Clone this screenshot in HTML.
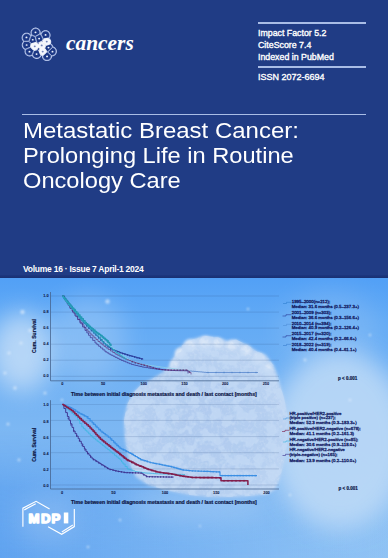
<!DOCTYPE html>
<html><head><meta charset="utf-8">
<style>
html,body{margin:0;padding:0;}
body{width:388px;height:558px;overflow:hidden;position:relative;background:#203c85;font-family:"Liberation Sans",sans-serif;}
.top{position:absolute;left:0;top:0;width:388px;height:278px;background:#203c85;}
.band{position:absolute;left:0;top:275px;width:388px;height:3px;background:linear-gradient(#1d3780,#183072);}

.w{color:#fff;position:absolute;white-space:nowrap;}
.hl{position:absolute;height:1.5px;background:#a9bde6;}
.title{position:absolute;left:23px;top:118.5px;color:#fff;font-size:22.8px;line-height:24.5px;transform:scaleX(1.037);transform-origin:0 0;white-space:nowrap;}
.info{font-size:8.8px;line-height:12.1px;left:258px;-webkit-text-stroke:0.35px #fff;}
svg{position:absolute;left:0;top:0;}
</style></head><body>
<div class="top"></div>
<div class="band"></div>
<svg class="skysvg" width="388" height="280" viewBox="0 278 388 280" style="position:absolute;left:0;top:278px">
<defs>
 <linearGradient id="gb" x1="0" y1="0" x2="0" y2="1">
  <stop offset="0" stop-color="#52a0f6"/>
  <stop offset="0.15" stop-color="#62aaf5"/>
  <stop offset="0.5" stop-color="#7ab6f3"/>
  <stop offset="0.8" stop-color="#8bc0f4"/>
  <stop offset="1" stop-color="#93c5f5"/>
 </linearGradient>
 <radialGradient id="gc" cx="205" cy="430" r="100" gradientUnits="userSpaceOnUse">
  <stop offset="0" stop-color="#afcaef"/>
  <stop offset="0.6" stop-color="#b4cef0"/>
  <stop offset="1" stop-color="#c2d8f4"/>
 </radialGradient>
 <filter id="b3" x="-30%" y="-30%" width="160%" height="160%"><feGaussianBlur stdDeviation="1.8"/></filter>
 <filter id="b12" x="-80%" y="-80%" width="260%" height="260%"><feGaussianBlur stdDeviation="12"/></filter>
 <filter id="b2" x="-100%" y="-100%" width="300%" height="300%"><feGaussianBlur stdDeviation="1.2"/></filter>
 <filter id="tex" x="0" y="0" width="100%" height="100%">
  <feTurbulence type="fractalNoise" baseFrequency="0.35" numOctaves="2" seed="3" result="n"/>
  <feColorMatrix in="n" type="matrix" values="0 0 0 0 1  0 0 0 0 1  0 0 0 0 1  0 0 0 1.6 -0.75" result="w"/>
  <feComposite in="w" in2="SourceGraphic" operator="in"/>
 </filter>
 <filter id="tex2" x="0" y="0" width="100%" height="100%">
  <feTurbulence type="fractalNoise" baseFrequency="0.09" numOctaves="3" seed="7" result="n"/>
  <feColorMatrix in="n" type="matrix" values="0 0 0 0 0.56  0 0 0 0 0.71  0 0 0 0 0.92  7 0 0 0 -3.3" result="w"/>
  <feComposite in="w" in2="SourceGraphic" operator="in"/>
 </filter>
 <linearGradient id="gh" x1="0" y1="0" x2="1" y2="0">
  <stop offset="0" stop-color="#4f98ee" stop-opacity="0.75"/>
  <stop offset="0.5" stop-color="#5aa0f0" stop-opacity="0.45"/>
  <stop offset="1" stop-color="#6aaaf2" stop-opacity="0.05"/>
 </linearGradient>
 <linearGradient id="gv" x1="0" y1="0" x2="0" y2="1">
  <stop offset="0" stop-color="#fff" stop-opacity="0"/>
  <stop offset="0.45" stop-color="#fff" stop-opacity="0.8"/>
  <stop offset="1" stop-color="#fff" stop-opacity="1"/>
 </linearGradient>
 <mask id="mv" maskUnits="userSpaceOnUse" x="0" y="430" width="388" height="128"><rect x="0" y="430" width="388" height="128" fill="url(#gv)"/></mask>
</defs>
<rect x="0" y="278" width="388" height="280" fill="url(#gb)"/>
<rect x="0" y="430" width="388" height="128" fill="url(#gh)" mask="url(#mv)"/>
<!-- hazes -->
<ellipse cx="22" cy="352" rx="32" ry="40" fill="#cfe3f8" opacity="0.75" filter="url(#b12)"/>
<ellipse cx="88" cy="338" rx="38" ry="42" fill="#b4d4f6" opacity="0.4" filter="url(#b12)"/>
<ellipse cx="48" cy="520" rx="30" ry="24" fill="#a4c8f4" opacity="0.35" filter="url(#b12)"/>
<ellipse cx="330" cy="330" rx="50" ry="40" fill="#a0c8f4" opacity="0.3" filter="url(#b12)"/>
<ellipse cx="340" cy="440" rx="70" ry="90" fill="#c0dbf7" opacity="0.85" filter="url(#b12)"/>
<ellipse cx="200" cy="505" rx="70" ry="18" fill="#b0d2f6" opacity="0.4" filter="url(#b12)"/>
<!-- big cloud -->
<path id="cl" filter="url(#b3)" fill="url(#gc)" d="M150,380 L160,374 L168,368 L172,360 L177,350 L186,342 L196,338 L206,336 L218,337.5 L228,341 L236,339.5 L247,345 L258,352 L266,355 L274,366 L278,377 L281,388 L284,398 L286.5,409 L288,420 L288,431 L286.5,447 L285,458 L282.3,468.4 L279.6,479 L275.6,489 L268,494 L250,496 L230,497 L210,497 L190,495 L165,490 L148,485 L136,477 L129,462 L125,440 L124,420 L127,405 L133,393 L141,385 Z"/>
<g fill="#dbe8f8" opacity="0.85" filter="url(#b3)">
 <circle cx="180" cy="353" r="5"/><circle cx="190" cy="345" r="6"/><circle cx="205" cy="342" r="6"/>
 <circle cx="218" cy="343" r="5"/><circle cx="232" cy="345" r="5"/><circle cx="246" cy="350" r="5"/>
 <circle cx="259" cy="358" r="5"/><circle cx="268" cy="368" r="4"/><circle cx="174" cy="364" r="4"/>
</g>
<path d="M150,380 L160,374 L168,368 L172,360 L177,350 L186,342 L196,338 L206,336 L218,337.5 L228,341 L236,339.5 L247,345 L258,352 L266,355 L274,366 L278,377 L281,388 L284,398 L286.5,409 L288,420 L288,431 L286.5,447 L285,458 L282.3,468.4 L279.6,479 L275.6,489 L268,494 L250,496 L230,497 L210,497 L190,495 L165,490 L148,485 L136,477 L129,462 L125,440 L124,420 L127,405 L133,393 L141,385 Z" fill="#fff" filter="url(#tex)" opacity="0.25"/>
<path d="M150,380 L160,374 L168,368 L172,360 L177,350 L186,342 L196,338 L206,336 L218,337.5 L228,341 L236,339.5 L247,345 L258,352 L266,355 L274,366 L278,377 L281,388 L284,398 L286.5,409 L288,420 L288,431 L286.5,447 L285,458 L282.3,468.4 L279.6,479 L275.6,489 L268,494 L250,496 L230,497 L210,497 L190,495 L165,490 L148,485 L136,477 L129,462 L125,440 L124,420 L127,405 L133,393 L141,385 Z" fill="#fff" filter="url(#tex2)" opacity="0.7"/>
<!-- bokeh -->
<g fill="#eaf3fd" filter="url(#b2)" opacity="0.6">
 <circle cx="107.5" cy="301.5" r="2.2"/><circle cx="22.5" cy="312" r="2.2"/><circle cx="30" cy="330.5" r="1.8"/>
 <circle cx="9" cy="353" r="1.6"/><circle cx="21" cy="343" r="1.5"/><circle cx="5" cy="373" r="1.6"/>
 <circle cx="15" cy="388" r="1.8"/><circle cx="45" cy="393" r="1.5"/><circle cx="8" cy="424" r="1.5"/>
 <circle cx="19" cy="460" r="1.4"/><circle cx="325" cy="303" r="1.8"/><circle cx="305" cy="360" r="1.4"/>
 <circle cx="248" cy="309" r="1.2"/><circle cx="200" cy="526" r="1.1"/><circle cx="120" cy="520" r="1.2"/>
 <circle cx="370" cy="335" r="1.2"/><circle cx="88" cy="547" r="1.3"/><circle cx="350" cy="400" r="1.3"/>
 <circle cx="290" cy="495" r="1.2"/><circle cx="62" cy="400" r="1.2"/>
</g>
</svg>


<!-- journal logo -->
<svg width="388" height="100" viewBox="0 0 388 100">
<g><path d="M39.91,31.30 39.90,31.28 39.76,30.89 39.75,30.87 39.57,30.49 39.56,30.47 39.35,30.11 39.34,30.09 39.08,29.75 39.07,29.74 38.79,29.43 38.77,29.41 38.46,29.13 38.45,29.12 38.11,28.86 38.09,28.85 37.73,28.64 37.71,28.63 37.33,28.45 37.31,28.44 36.92,28.30 36.90,28.29 36.49,28.19 36.47,28.19 36.05,28.12 36.03,28.12 35.61,28.10 35.59,28.10 35.17,28.12 35.15,28.12 34.73,28.19 34.71,28.19 34.30,28.29 34.28,28.30 33.89,28.44 33.87,28.45 33.49,28.63 33.47,28.64 33.11,28.85 33.09,28.86 32.75,29.12 32.74,29.13 32.43,29.41 32.41,29.43 32.13,29.74 32.12,29.75 31.86,30.09 31.85,30.11 31.64,30.47 31.63,30.49 31.45,30.87 31.44,30.89 31.30,31.28 31.29,31.30 31.19,31.71 31.19,31.73 31.12,32.15 31.12,32.17 31.10,32.59 31.10,32.61 31.12,33.03 31.12,33.05 31.19,33.47 31.19,33.49 31.29,33.90 31.30,33.92 31.44,34.31 31.45,34.33 31.63,34.71 31.64,34.73 31.85,35.09 31.86,35.11 31.99,35.27 32.00,35.29 32.00,35.29 32.00,35.30 32.01,35.31 32.01,35.32 32.01,35.33 32.01,35.34 32.01,35.35 32.01,35.36 32.00,35.37 32.00,35.38 32.00,35.39 31.99,35.40 31.98,35.40 31.98,35.41 31.97,35.42 31.96,35.42 31.95,35.43 31.94,35.43 31.93,35.43 31.70,35.49 31.68,35.50 31.29,35.64 31.27,35.65 30.90,35.82 30.89,35.83 30.88,35.83 30.87,35.83 30.86,35.83 30.85,35.83 30.84,35.83 30.83,35.83 30.82,35.83 30.81,35.82 30.80,35.82 30.79,35.81 30.79,35.81 30.78,35.80 30.77,35.79 30.77,35.78 30.76,35.77 30.67,35.59 30.66,35.57 30.45,35.21 30.44,35.19 30.18,34.85 30.17,34.84 29.89,34.53 29.87,34.51 29.56,34.23 29.55,34.22 29.21,33.96 29.19,33.95 28.83,33.74 28.81,33.73 28.43,33.55 28.41,33.54 28.02,33.40 28.00,33.39 27.59,33.29 27.57,33.29 27.15,33.22 27.13,33.22 26.71,33.20 26.69,33.20 26.27,33.22 26.25,33.22 25.83,33.29 25.81,33.29 25.40,33.39 25.38,33.40 24.99,33.54 24.97,33.55 24.59,33.73 24.57,33.74 24.21,33.95 24.19,33.96 23.85,34.22 23.84,34.23 23.53,34.51 23.51,34.53 23.23,34.84 23.22,34.85 22.96,35.19 22.95,35.21 22.74,35.57 22.73,35.59 22.55,35.97 22.54,35.99 22.40,36.38 22.39,36.40 22.29,36.81 22.29,36.83 22.22,37.25 22.22,37.27 22.20,37.69 22.20,37.71 22.22,38.13 22.22,38.15 22.29,38.57 22.29,38.59 22.39,39.00 22.40,39.02 22.54,39.41 22.55,39.43 22.73,39.81 22.74,39.83 22.95,40.19 22.96,40.21 23.22,40.55 23.23,40.56 23.51,40.87 23.53,40.89 23.84,41.17 23.85,41.18 24.01,41.30 24.03,41.31 24.03,41.32 24.04,41.33 24.04,41.34 24.05,41.34 24.05,41.35 24.06,41.36 24.06,41.37 24.06,41.38 24.06,41.39 24.06,41.40 24.06,41.41 24.05,41.42 24.05,41.43 24.04,41.44 24.04,41.45 24.03,41.45 24.03,41.46 24.01,41.47 23.95,41.52 23.94,41.53 23.63,41.81 23.61,41.83 23.33,42.14 23.32,42.15 23.06,42.49 23.05,42.51 22.84,42.87 22.83,42.89 22.65,43.27 22.64,43.29 22.50,43.68 22.49,43.70 22.39,44.11 22.39,44.13 22.32,44.55 22.32,44.57 22.30,44.99 22.30,45.01 22.32,45.43 22.32,45.45 22.39,45.87 22.39,45.89 22.49,46.30 22.50,46.32 22.64,46.71 22.65,46.73 22.83,47.11 22.84,47.13 23.05,47.49 23.06,47.51 23.32,47.85 23.33,47.86 23.61,48.17 23.63,48.19 23.94,48.47 23.95,48.48 24.29,48.74 24.31,48.75 24.67,48.96 24.69,48.97 25.07,49.15 25.09,49.16 25.49,49.31 25.51,49.31 25.51,49.32 25.52,49.32 25.53,49.33 25.54,49.33 25.54,49.34 25.55,49.35 25.55,49.36 25.56,49.37 25.56,49.38 25.56,49.39 25.56,49.40 25.56,49.41 25.56,49.42 25.56,49.43 25.56,49.43 25.55,49.45 25.45,49.67 25.44,49.69 25.30,50.08 25.29,50.10 25.19,50.51 25.19,50.53 25.12,50.95 25.12,50.97 25.10,51.39 25.10,51.41 25.12,51.83 25.12,51.85 25.19,52.27 25.19,52.29 25.29,52.70 25.30,52.72 25.44,53.11 25.45,53.13 25.63,53.51 25.64,53.53 25.85,53.89 25.86,53.91 26.12,54.25 26.13,54.26 26.41,54.57 26.43,54.59 26.74,54.87 26.75,54.88 27.09,55.14 27.11,55.15 27.47,55.36 27.49,55.37 27.87,55.55 27.89,55.56 28.28,55.70 28.30,55.71 28.71,55.81 28.73,55.81 29.15,55.88 29.17,55.88 29.59,55.90 29.61,55.90 30.03,55.88 30.05,55.88 30.47,55.81 30.49,55.81 30.90,55.71 30.92,55.70 31.31,55.56 31.33,55.55 31.71,55.37 31.73,55.36 32.09,55.15 32.11,55.14 32.21,55.06 32.22,55.05 32.23,55.05 32.24,55.04 32.25,55.04 32.26,55.04 32.27,55.04 32.28,55.04 32.29,55.04 32.30,55.04 32.31,55.04 32.32,55.05 32.32,55.05 32.33,55.06 32.34,55.06 32.35,55.07 32.35,55.08 32.36,55.09 32.36,55.09 32.37,55.10 32.37,55.12 32.39,55.20 32.40,55.22 32.54,55.61 32.55,55.63 32.73,56.01 32.74,56.03 32.95,56.39 32.96,56.41 33.22,56.75 33.23,56.76 33.51,57.07 33.53,57.09 33.84,57.37 33.85,57.38 34.19,57.64 34.21,57.65 34.57,57.86 34.59,57.87 34.97,58.05 34.99,58.06 35.38,58.20 35.40,58.21 35.81,58.31 35.83,58.31 36.25,58.38 36.27,58.38 36.69,58.40 36.71,58.40 37.13,58.38 37.15,58.38 37.57,58.31 37.59,58.31 38.00,58.21 38.02,58.20 38.41,58.06 38.43,58.05 38.81,57.87 38.83,57.86 39.19,57.65 39.21,57.64 39.55,57.38 39.56,57.37 39.87,57.09 39.89,57.07 40.17,56.76 40.18,56.75 40.44,56.41 40.45,56.39 40.66,56.03 40.67,56.01 40.85,55.63 40.86,55.61 41.01,55.21 41.01,55.19 41.02,55.19 41.02,55.18 41.03,55.17 41.03,55.16 41.04,55.16 41.05,55.15 41.06,55.15 41.07,55.14 41.08,55.14 41.09,55.14 41.10,55.14 41.11,55.14 41.12,55.14 41.13,55.14 41.13,55.14 41.15,55.15 41.22,55.18 41.24,55.19 41.60,55.32 41.62,55.33 41.99,55.42 42.01,55.42 42.39,55.48 42.41,55.48 42.42,55.48 42.44,55.48 42.44,55.48 42.45,55.49 42.46,55.49 42.47,55.50 42.48,55.50 42.49,55.51 42.49,55.51 42.50,55.52 42.51,55.53 42.51,55.54 42.51,55.55 42.52,55.56 42.52,55.57 42.52,55.58 42.52,55.59 42.50,55.99 42.50,56.01 42.52,56.43 42.52,56.45 42.59,56.87 42.59,56.89 42.69,57.30 42.70,57.32 42.84,57.71 42.85,57.73 43.03,58.11 43.04,58.13 43.25,58.49 43.26,58.51 43.52,58.85 43.53,58.86 43.81,59.17 43.83,59.19 44.14,59.47 44.15,59.48 44.49,59.74 44.51,59.75 44.87,59.96 44.89,59.97 45.27,60.15 45.29,60.16 45.68,60.30 45.70,60.31 46.11,60.41 46.13,60.41 46.55,60.48 46.57,60.48 46.99,60.50 47.01,60.50 47.43,60.48 47.45,60.48 47.87,60.41 47.89,60.41 48.30,60.31 48.32,60.30 48.71,60.16 48.73,60.15 49.11,59.97 49.13,59.96 49.49,59.75 49.51,59.74 49.85,59.48 49.86,59.47 50.17,59.19 50.19,59.17 50.47,58.86 50.48,58.85 50.74,58.51 50.75,58.49 50.96,58.13 50.97,58.11 51.15,57.73 51.16,57.71 51.30,57.32 51.31,57.30 51.41,56.89 51.41,56.87 51.48,56.45 51.48,56.43 51.50,56.00 51.50,56.00 51.50,55.99 51.50,55.98 51.50,55.97 51.51,55.96 51.51,55.95 51.51,55.94 51.52,55.93 51.53,55.92 51.53,55.92 51.54,55.91 51.55,55.90 51.56,55.90 51.57,55.90 51.58,55.89 51.58,55.89 51.59,55.89 51.61,55.89 51.79,55.90 51.81,55.90 52.23,55.88 52.25,55.88 52.67,55.81 52.69,55.81 53.10,55.71 53.12,55.70 53.51,55.56 53.53,55.55 53.91,55.37 53.93,55.36 54.29,55.15 54.31,55.14 54.65,54.88 54.66,54.87 54.97,54.59 54.99,54.57 55.27,54.26 55.28,54.25 55.54,53.91 55.55,53.89 55.76,53.53 55.77,53.51 55.95,53.13 55.96,53.11 56.10,52.72 56.11,52.70 56.21,52.29 56.21,52.27 56.28,51.85 56.28,51.83 56.30,51.41 56.30,51.39 56.28,50.97 56.28,50.95 56.21,50.53 56.21,50.51 56.11,50.10 56.10,50.08 55.96,49.69 55.95,49.67 55.77,49.29 55.76,49.27 55.55,48.91 55.54,48.89 55.28,48.55 55.27,48.54 54.99,48.23 54.97,48.21 54.66,47.93 54.65,47.92 54.31,47.66 54.29,47.65 53.93,47.44 53.91,47.43 53.53,47.25 53.51,47.24 53.12,47.10 53.10,47.09 52.88,47.04 52.86,47.03 52.85,47.03 52.84,47.02 52.84,47.02 52.83,47.01 52.82,47.00 52.82,47.00 52.81,46.99 52.81,46.98 52.80,46.97 52.80,46.96 52.71,46.60 52.70,46.58 52.56,46.19 52.55,46.17 52.37,45.79 52.36,45.77 52.15,45.41 52.14,45.39 51.88,45.05 51.87,45.04 51.59,44.73 51.57,44.71 51.26,44.43 51.25,44.42 50.91,44.16 50.89,44.15 50.53,43.94 50.51,43.93 50.29,43.82 50.28,43.81 50.27,43.81 50.26,43.80 50.25,43.80 50.25,43.79 50.24,43.78 50.24,43.77 50.23,43.76 50.23,43.75 50.23,43.74 50.23,43.73 50.23,43.72 50.23,43.71 50.23,43.71 50.23,43.70 50.24,43.68 50.38,43.38 50.39,43.36 50.52,43.00 50.53,42.98 50.62,42.61 50.62,42.59 50.68,42.21 50.68,42.19 50.70,41.81 50.70,41.79 50.68,41.41 50.68,41.39 50.62,41.01 50.62,40.99 50.53,40.62 50.52,40.60 50.39,40.24 50.38,40.22 50.22,39.88 50.21,39.86 50.01,39.53 50.00,39.51 49.78,39.21 49.76,39.19 49.51,38.91 49.49,38.89 49.21,38.64 49.19,38.62 48.89,38.40 48.87,38.39 48.85,38.38 48.84,38.37 48.83,38.36 48.83,38.36 48.82,38.35 48.82,38.34 48.81,38.33 48.81,38.32 48.80,38.31 48.80,38.30 48.80,38.29 48.80,38.28 48.80,38.27 48.80,38.26 48.81,38.26 48.81,38.25 48.82,38.24 48.82,38.23 48.83,38.22 48.97,38.06 48.98,38.05 49.24,37.71 49.25,37.69 49.46,37.33 49.47,37.31 49.65,36.93 49.66,36.91 49.80,36.52 49.81,36.50 49.91,36.09 49.91,36.07 49.98,35.65 49.98,35.63 50.00,35.21 50.00,35.19 49.98,34.77 49.98,34.75 49.91,34.33 49.91,34.31 49.81,33.90 49.80,33.88 49.66,33.49 49.65,33.47 49.47,33.09 49.46,33.07 49.25,32.71 49.24,32.69 48.98,32.35 48.97,32.34 48.69,32.03 48.67,32.01 48.36,31.73 48.35,31.72 48.01,31.46 47.99,31.45 47.63,31.24 47.61,31.23 47.23,31.05 47.21,31.04 46.82,30.90 46.80,30.89 46.39,30.79 46.37,30.79 45.95,30.72 45.93,30.72 45.51,30.70 45.49,30.70 45.07,30.72 45.05,30.72 44.63,30.79 44.61,30.79 44.20,30.89 44.18,30.90 43.79,31.04 43.77,31.05 43.39,31.23 43.37,31.24 43.01,31.45 42.99,31.46 42.65,31.72 42.64,31.73 42.33,32.01 42.31,32.03 42.03,32.34 42.02,32.35 41.76,32.69 41.75,32.71 41.54,33.07 41.53,33.09 41.35,33.47 41.34,33.49 41.20,33.88 41.19,33.90 41.09,34.31 41.09,34.33 41.07,34.42 41.07,34.43 41.07,34.44 41.06,34.45 41.06,34.46 41.05,34.47 41.05,34.47 41.04,34.48 41.03,34.49 41.02,34.49 41.02,34.50 41.01,34.50 41.00,34.50 40.99,34.50 40.98,34.51 40.97,34.51 40.96,34.50 40.95,34.50 40.94,34.50 40.93,34.50 40.92,34.49 40.83,34.44 40.81,34.43 40.43,34.25 40.41,34.24 40.02,34.10 40.00,34.09 39.96,34.08 39.95,34.08 39.94,34.08 39.93,34.07 39.92,34.07 39.92,34.06 39.91,34.05 39.90,34.04 39.90,34.04 39.89,34.03 39.89,34.02 39.89,34.01 39.89,34.00 39.88,33.99 39.88,33.98 39.89,33.97 39.89,33.96 39.89,33.95 39.90,33.92 39.91,33.90 40.01,33.49 40.01,33.47 40.08,33.05 40.08,33.03 40.10,32.61 40.10,32.59 40.08,32.17 40.08,32.15 40.01,31.73 40.01,31.71 39.91,31.30Z" fill="#2a4590" stroke="#b9c8ee" stroke-width="1.1"/>
<path d="M32.34,35.20 32.35,35.23 32.36,35.26 32.38,35.29 32.40,35.31 32.42,35.33 32.44,35.35 32.47,35.37 32.50,35.39 32.52,35.40 35.08,36.32 35.11,36.33 35.14,36.34 35.16,36.34 35.19,36.34 35.22,36.34 35.25,36.33 35.27,36.33 35.30,36.32 35.33,36.31 39.38,34.14 39.41,34.12 39.43,34.10 39.45,34.09 39.47,34.07 39.49,34.04 39.50,34.02 39.52,34.00 39.53,33.97 39.53,33.94 39.54,33.91 39.54,33.90 39.54,33.89 39.55,33.86 39.56,33.84 39.56,33.83 39.57,33.82 39.57,33.79 39.67,33.42 39.67,33.39 39.73,33.02 39.73,32.99 39.75,32.61 39.75,32.59 39.73,32.21 39.73,32.18 39.67,31.81 39.67,31.78 39.57,31.41 39.57,31.38 39.44,31.03 39.43,31.00 39.27,30.66 39.25,30.63 39.06,30.31 39.04,30.28 38.82,29.98 38.80,29.96 38.54,29.68 38.52,29.66 38.24,29.40 38.22,29.38 37.92,29.16 37.89,29.14 37.57,28.95 37.54,28.93 37.20,28.77 37.17,28.76 36.82,28.63 36.79,28.63 36.42,28.53 36.39,28.53 36.02,28.47 35.99,28.47 35.61,28.45 35.59,28.45 35.21,28.47 35.18,28.47 34.81,28.53 34.78,28.53 34.41,28.63 34.38,28.63 34.03,28.76 34.00,28.77 33.66,28.93 33.63,28.95 33.31,29.14 33.28,29.16 32.98,29.38 32.96,29.40 32.68,29.66 32.66,29.68 32.40,29.96 32.38,29.98 32.16,30.28 32.14,30.31 31.95,30.63 31.93,30.66 31.77,31.00 31.76,31.03 31.63,31.38 31.63,31.41 31.53,31.78 31.53,31.81 31.47,32.18 31.47,32.21 31.45,32.59 31.45,32.61 31.47,32.99 31.47,33.02 31.53,33.39 31.53,33.42 31.63,33.79 31.63,33.82 31.76,34.17 31.77,34.20 31.93,34.54 31.95,34.57 32.14,34.89 32.16,34.92 32.27,35.07 32.28,35.08 32.29,35.09 32.30,35.12 32.31,35.13 32.32,35.16 32.33,35.17 32.34,35.20 32.34,35.20Z" fill="#1c3886" stroke="#c8d5f3" stroke-width="0.65"/>
<path d="M41.37,34.61 41.36,34.64 41.35,34.67 41.34,34.70 41.34,34.73 41.34,34.76 41.34,34.79 41.34,34.83 41.35,34.86 41.36,34.88 43.11,38.59 43.12,38.61 43.14,38.64 43.15,38.66 43.17,38.68 43.19,38.70 43.22,38.71 43.24,38.73 43.27,38.74 43.29,38.75 43.32,38.75 43.32,38.75 43.35,38.76 43.36,38.76 43.39,38.77 43.41,38.78 43.44,38.78 43.47,38.78 43.50,38.77 48.53,37.94 48.55,37.93 48.58,37.92 48.61,37.91 48.63,37.90 48.66,37.88 48.68,37.86 48.70,37.84 48.72,37.82 48.94,37.52 48.96,37.49 49.15,37.17 49.17,37.14 49.33,36.80 49.34,36.77 49.47,36.42 49.47,36.39 49.57,36.02 49.57,35.99 49.63,35.62 49.63,35.59 49.65,35.21 49.65,35.19 49.63,34.81 49.63,34.78 49.57,34.41 49.57,34.38 49.47,34.01 49.47,33.98 49.34,33.63 49.33,33.60 49.17,33.26 49.15,33.23 48.96,32.91 48.94,32.88 48.72,32.58 48.70,32.56 48.44,32.28 48.42,32.26 48.14,32.00 48.12,31.98 47.82,31.76 47.79,31.74 47.47,31.55 47.44,31.53 47.10,31.37 47.07,31.36 46.72,31.23 46.69,31.23 46.32,31.13 46.29,31.13 45.92,31.07 45.89,31.07 45.51,31.05 45.49,31.05 45.11,31.07 45.08,31.07 44.71,31.13 44.68,31.13 44.31,31.23 44.28,31.23 43.93,31.36 43.90,31.37 43.56,31.53 43.53,31.55 43.21,31.74 43.18,31.76 42.88,31.98 42.86,32.00 42.58,32.26 42.56,32.28 42.30,32.56 42.28,32.58 42.06,32.88 42.04,32.91 41.85,33.23 41.83,33.26 41.67,33.60 41.66,33.63 41.53,33.98 41.53,34.01 41.43,34.38 41.43,34.41 41.42,34.47 41.42,34.48 41.41,34.50 41.41,34.53 41.40,34.54 41.39,34.57 41.39,34.58 41.37,34.61 41.37,34.61Z" fill="#1c3886" stroke="#c8d5f3" stroke-width="0.65"/>
<path d="M24.31,41.11 24.33,41.13 24.35,41.15 24.37,41.17 24.40,41.19 24.42,41.20 24.45,41.21 24.47,41.22 24.50,41.23 24.53,41.23 24.56,41.23 28.67,41.17 28.70,41.17 28.73,41.17 28.76,41.16 28.78,41.15 28.81,41.14 28.83,41.12 28.86,41.11 28.88,41.09 28.90,41.07 28.91,41.04 28.93,41.02 28.94,41.00 28.95,40.97 30.52,36.26 30.53,36.23 30.54,36.20 30.54,36.17 30.54,36.14 30.53,36.11 30.53,36.08 30.52,36.05 30.50,36.02 30.49,36.00 30.47,35.98 30.46,35.95 30.45,35.94 30.44,35.92 30.37,35.76 30.35,35.73 30.16,35.41 30.14,35.38 29.92,35.08 29.90,35.06 29.64,34.78 29.62,34.76 29.34,34.50 29.32,34.48 29.02,34.26 28.99,34.24 28.67,34.05 28.64,34.03 28.30,33.87 28.27,33.86 27.92,33.73 27.89,33.73 27.52,33.63 27.49,33.63 27.12,33.57 27.09,33.57 26.71,33.55 26.69,33.55 26.31,33.57 26.28,33.57 25.91,33.63 25.88,33.63 25.51,33.73 25.48,33.73 25.13,33.86 25.10,33.87 24.76,34.03 24.73,34.05 24.41,34.24 24.38,34.26 24.08,34.48 24.06,34.50 23.78,34.76 23.76,34.78 23.50,35.06 23.48,35.08 23.26,35.38 23.24,35.41 23.05,35.73 23.03,35.76 22.87,36.10 22.86,36.13 22.73,36.48 22.73,36.51 22.63,36.88 22.63,36.91 22.57,37.28 22.57,37.31 22.55,37.69 22.55,37.71 22.57,38.09 22.57,38.12 22.63,38.49 22.63,38.52 22.73,38.89 22.73,38.92 22.86,39.27 22.87,39.30 23.03,39.64 23.05,39.67 23.24,39.99 23.26,40.02 23.48,40.32 23.50,40.34 23.76,40.62 23.78,40.64 24.06,40.90 24.08,40.92 24.22,41.02 24.24,41.03 24.25,41.04 24.27,41.06 24.28,41.07 24.30,41.10 24.31,41.11 24.31,41.11Z" fill="#1c3886" stroke="#c8d5f3" stroke-width="0.65"/>
<path d="M30.99,36.16 30.96,36.17 30.94,36.19 30.91,36.20 30.89,36.22 30.87,36.24 30.85,36.27 30.83,36.29 30.82,36.32 30.81,36.35 29.22,41.13 29.21,41.16 29.20,41.19 29.20,41.22 29.20,41.25 29.21,41.28 29.21,41.31 29.22,41.34 29.24,41.37 29.25,41.39 29.27,41.42 31.00,43.48 31.02,43.50 31.04,43.52 31.06,43.53 31.09,43.55 31.11,43.56 31.14,43.57 31.17,43.58 31.20,43.58 31.22,43.58 31.25,43.58 31.28,43.58 31.31,43.57 36.16,42.21 36.19,42.20 36.21,42.19 36.24,42.17 36.26,42.16 36.28,42.14 36.30,42.12 36.32,42.09 36.34,42.07 36.35,42.05 36.36,42.02 36.37,41.99 36.38,41.96 36.38,41.93 36.38,41.91 36.38,41.88 36.37,41.85 35.13,36.80 35.12,36.77 35.11,36.75 35.10,36.72 35.08,36.70 35.06,36.67 35.04,36.65 35.02,36.63 34.99,36.62 34.97,36.60 34.94,36.59 32.42,35.68 32.40,35.67 32.37,35.67 32.34,35.66 32.31,35.66 32.28,35.67 32.26,35.67 32.23,35.68 32.20,35.69 32.18,35.70 32.15,35.71 32.15,35.71 32.13,35.73 32.12,35.74 32.09,35.75 32.07,35.75 32.05,35.76 32.03,35.77 32.02,35.77 31.81,35.83 31.78,35.83 31.43,35.96 31.40,35.97 31.05,36.14 31.03,36.14 31.02,36.15 30.99,36.16Z" fill="#1c3886" stroke="#c8d5f3" stroke-width="0.65"/>
<path d="M36.99,42.25 37.01,42.26 37.04,42.27 37.07,42.28 37.10,42.28 37.13,42.28 37.16,42.28 37.17,42.28 37.20,42.28 37.21,42.28 37.24,42.29 37.26,42.29 37.29,42.30 37.30,42.30 37.32,42.31 37.48,42.37 37.51,42.37 37.88,42.47 37.91,42.47 38.28,42.53 38.31,42.53 38.71,42.55 38.71,42.55 38.71,42.55 38.74,42.55 38.77,42.55 38.80,42.54 38.82,42.53 38.85,42.52 41.72,41.21 41.74,41.20 41.76,41.18 41.79,41.16 41.81,41.15 41.82,41.13 41.83,41.11 41.84,41.10 41.90,41.04 41.92,41.02 42.11,40.76 42.12,40.75 42.13,40.73 42.15,40.71 42.16,40.70 42.18,40.68 42.19,40.67 42.20,40.67 42.22,40.65 42.24,40.63 42.26,40.60 42.28,40.58 42.29,40.55 42.73,39.53 42.74,39.51 42.75,39.48 42.75,39.45 42.75,39.42 42.75,39.39 42.75,39.38 42.75,39.35 42.75,39.33 42.75,39.30 42.75,39.29 42.76,39.26 42.76,39.24 42.76,39.23 42.77,39.22 42.77,39.19 42.78,39.13 42.78,39.12 42.79,39.10 42.79,39.07 42.80,39.06 42.81,39.03 42.81,39.02 42.83,38.99 42.83,38.99 42.84,38.96 42.85,38.93 42.86,38.90 42.86,38.87 42.86,38.84 42.86,38.81 42.86,38.77 42.85,38.74 42.84,38.72 41.09,35.01 41.08,34.99 41.06,34.96 41.05,34.94 41.03,34.92 41.01,34.90 40.98,34.89 40.96,34.87 40.93,34.86 40.91,34.85 40.88,34.85 40.88,34.85 40.85,34.84 40.84,34.83 40.81,34.82 40.79,34.82 40.77,34.81 40.75,34.80 40.74,34.79 40.67,34.75 40.64,34.73 40.30,34.57 40.27,34.56 39.92,34.43 39.89,34.43 39.88,34.42 39.86,34.42 39.85,34.41 39.82,34.40 39.81,34.40 39.80,34.39 39.77,34.38 39.74,34.37 39.71,34.37 39.68,34.36 39.64,34.37 39.61,34.37 39.58,34.38 39.55,34.39 39.53,34.40 35.60,36.50 35.57,36.52 35.55,36.53 35.53,36.55 35.51,36.58 35.49,36.60 35.47,36.63 35.46,36.66 35.45,36.68 35.44,36.71 35.44,36.74 35.44,36.78 35.44,36.81 35.45,36.84 36.72,42.00 36.72,42.02 36.74,42.05 36.75,42.08 36.76,42.10 36.78,42.12 36.80,42.14 36.82,42.16 36.85,42.18 36.87,42.19 36.99,42.25Z" fill="#1c3886" stroke="#c8d5f3" stroke-width="0.65"/>
<path d="M24.56,41.53 24.53,41.53 24.50,41.54 24.47,41.55 24.44,41.56 24.41,41.57 24.39,41.59 24.36,41.61 24.34,41.63 24.32,41.65 24.31,41.67 24.30,41.68 24.28,41.70 24.27,41.71 24.25,41.73 24.24,41.74 24.22,41.75 24.18,41.78 24.16,41.80 23.88,42.06 23.86,42.08 23.60,42.36 23.58,42.38 23.36,42.68 23.34,42.71 23.15,43.03 23.13,43.06 22.97,43.40 22.96,43.43 22.83,43.78 22.83,43.81 22.73,44.18 22.73,44.21 22.67,44.58 22.67,44.61 22.65,44.99 22.65,45.01 22.67,45.39 22.67,45.42 22.73,45.79 22.73,45.82 22.83,46.19 22.83,46.22 22.96,46.57 22.97,46.60 23.13,46.94 23.15,46.97 23.34,47.29 23.36,47.32 23.58,47.62 23.60,47.64 23.86,47.92 23.88,47.94 24.16,48.20 24.18,48.22 24.48,48.44 24.51,48.46 24.83,48.65 24.86,48.67 25.20,48.83 25.23,48.84 25.61,48.98 25.62,48.98 25.64,48.99 25.67,49.00 25.69,49.01 25.71,49.02 25.74,49.03 25.77,49.04 25.80,49.05 25.83,49.05 25.86,49.04 25.89,49.04 25.92,49.03 25.95,49.02 30.28,47.13 30.30,47.11 30.33,47.10 30.35,47.08 30.38,47.06 30.40,47.04 30.41,47.01 30.43,46.98 30.44,46.96 30.45,46.93 30.45,46.90 30.89,43.97 30.90,43.95 30.90,43.92 30.89,43.89 30.89,43.86 30.88,43.83 30.87,43.81 30.86,43.78 30.84,43.76 30.83,43.74 29.02,41.58 29.00,41.56 28.97,41.54 28.95,41.52 28.92,41.51 28.90,41.49 28.87,41.48 28.84,41.48 28.81,41.47 28.78,41.47 24.56,41.53Z" fill="#1c3886" stroke="#c8d5f3" stroke-width="0.65"/>
<path d="M26.07,49.29 26.05,49.31 26.02,49.32 26.00,49.34 25.97,49.36 25.95,49.39 25.94,49.41 25.92,49.44 25.91,49.47 25.90,49.50 25.90,49.52 25.89,49.54 25.88,49.57 25.87,49.58 25.87,49.60 25.77,49.80 25.76,49.83 25.63,50.18 25.63,50.21 25.53,50.58 25.53,50.61 25.47,50.98 25.47,51.01 25.45,51.39 25.45,51.41 25.47,51.79 25.47,51.82 25.53,52.19 25.53,52.22 25.63,52.59 25.63,52.62 25.76,52.97 25.77,53.00 25.93,53.34 25.95,53.37 26.14,53.69 26.16,53.72 26.38,54.02 26.40,54.04 26.66,54.32 26.68,54.34 26.96,54.60 26.98,54.62 27.28,54.84 27.31,54.86 27.63,55.05 27.66,55.07 28.00,55.23 28.03,55.24 28.38,55.37 28.41,55.37 28.78,55.47 28.81,55.47 29.18,55.53 29.21,55.53 29.59,55.55 29.61,55.55 29.99,55.53 30.02,55.53 30.39,55.47 30.42,55.47 30.79,55.37 30.82,55.37 31.17,55.24 31.20,55.23 31.54,55.07 31.57,55.05 31.89,54.86 31.92,54.84 32.00,54.78 32.01,54.77 32.03,54.76 32.06,54.74 32.07,54.74 32.09,54.72 32.11,54.72 32.14,54.71 32.14,54.71 32.16,54.70 32.19,54.69 32.21,54.67 32.24,54.66 32.26,54.64 32.28,54.62 32.29,54.60 32.31,54.57 32.32,54.55 32.33,54.52 33.67,50.72 33.68,50.69 33.68,50.66 33.69,50.63 33.69,50.60 33.68,50.57 33.68,50.54 33.67,50.51 33.65,50.48 33.64,50.46 33.62,50.43 33.60,50.41 30.68,47.49 30.65,47.47 30.63,47.45 30.60,47.44 30.58,47.42 30.55,47.41 30.52,47.41 30.49,47.40 30.46,47.40 30.43,47.40 30.40,47.41 30.37,47.42 30.34,47.43 26.07,49.29Z" fill="#1c3886" stroke="#c8d5f3" stroke-width="0.65"/>
<path d="M32.61,54.62 32.61,54.65 32.60,54.68 32.60,54.71 32.60,54.74 32.60,54.77 32.61,54.80 32.62,54.83 32.63,54.86 32.65,54.89 32.65,54.89 32.67,54.92 32.67,54.93 32.69,54.96 32.69,54.97 32.70,55.00 32.71,55.02 32.71,55.03 32.73,55.09 32.73,55.12 32.86,55.47 32.87,55.50 33.03,55.84 33.05,55.87 33.24,56.19 33.26,56.22 33.48,56.52 33.50,56.54 33.76,56.82 33.78,56.84 34.06,57.10 34.08,57.12 34.38,57.34 34.41,57.36 34.73,57.55 34.76,57.57 35.10,57.73 35.13,57.74 35.48,57.87 35.51,57.87 35.88,57.97 35.91,57.97 36.28,58.03 36.31,58.03 36.69,58.05 36.71,58.05 37.09,58.03 37.12,58.03 37.49,57.97 37.52,57.97 37.89,57.87 37.92,57.87 38.27,57.74 38.30,57.73 38.64,57.57 38.67,57.55 38.99,57.36 39.02,57.34 39.32,57.12 39.34,57.10 39.62,56.84 39.64,56.82 39.90,56.54 39.92,56.52 40.14,56.22 40.16,56.19 40.35,55.87 40.37,55.84 40.53,55.50 40.54,55.47 40.60,55.31 40.61,55.28 40.61,55.25 40.61,55.22 40.61,55.19 40.61,55.16 40.60,55.13 40.59,55.10 38.63,50.32 38.62,50.29 38.61,50.27 38.59,50.24 38.57,50.22 38.55,50.20 38.53,50.19 38.51,50.17 38.48,50.16 38.30,50.07 38.27,50.06 37.92,49.93 37.89,49.93 37.52,49.83 37.49,49.83 37.48,49.83 37.46,49.82 37.44,49.82 37.44,49.82 37.42,49.82 37.39,49.81 37.36,49.81 37.33,49.82 37.31,49.82 34.18,50.59 34.15,50.60 34.12,50.61 34.09,50.63 34.07,50.64 34.05,50.66 34.03,50.68 34.01,50.71 33.99,50.73 33.98,50.76 33.97,50.78 32.61,54.62Z" fill="#1c3886" stroke="#c8d5f3" stroke-width="0.65"/>
<path d="M45.95,45.46 45.93,45.47 45.90,45.48 45.88,45.50 45.85,45.51 45.83,45.53 45.81,45.55 45.79,45.57 45.78,45.60 45.77,45.62 45.75,45.65 44.90,48.03 44.89,48.06 44.88,48.09 44.88,48.12 44.88,48.15 44.89,48.18 44.89,48.21 44.90,48.24 44.91,48.26 44.93,48.29 46.98,51.57 46.99,51.59 47.01,51.62 47.03,51.64 47.05,51.65 47.08,51.67 47.10,51.68 47.13,51.69 47.15,51.70 47.18,51.71 47.53,51.77 47.56,51.77 47.58,51.77 47.61,51.77 47.64,51.77 47.67,51.76 47.69,51.75 47.72,51.74 47.74,51.72 47.77,51.71 47.79,51.69 52.36,47.25 52.37,47.23 52.39,47.21 52.41,47.18 52.42,47.16 52.43,47.13 52.44,47.10 52.44,47.07 52.45,47.05 52.45,47.02 52.44,46.99 52.44,46.96 52.37,46.71 52.37,46.68 52.24,46.33 52.23,46.30 52.07,45.96 52.05,45.93 51.86,45.61 51.84,45.58 51.62,45.28 51.60,45.26 51.34,44.98 51.32,44.96 51.04,44.70 51.02,44.68 50.72,44.46 50.69,44.44 50.38,44.26 50.36,44.24 50.33,44.23 50.30,44.22 50.27,44.22 50.24,44.21 50.20,44.21 50.17,44.22 50.14,44.23 45.95,45.46Z" fill="#1c3886" stroke="#c8d5f3" stroke-width="0.65"/>
<path d="M51.29,55.45 51.31,55.47 51.33,55.49 51.36,55.51 51.38,55.52 51.41,55.53 51.44,55.54 51.46,55.54 51.49,55.55 51.52,55.55 51.54,55.54 51.54,55.54 51.56,55.54 51.59,55.54 51.61,55.54 51.63,55.54 51.79,55.55 51.81,55.55 52.19,55.53 52.22,55.53 52.59,55.47 52.62,55.47 52.99,55.37 53.02,55.37 53.37,55.24 53.40,55.23 53.74,55.07 53.77,55.05 54.09,54.86 54.12,54.84 54.42,54.62 54.44,54.60 54.72,54.34 54.74,54.32 55.00,54.04 55.02,54.02 55.24,53.72 55.26,53.69 55.45,53.37 55.47,53.34 55.63,53.00 55.64,52.97 55.77,52.62 55.77,52.59 55.87,52.22 55.87,52.19 55.93,51.82 55.93,51.79 55.95,51.41 55.95,51.39 55.93,51.01 55.93,50.98 55.87,50.61 55.87,50.58 55.77,50.21 55.77,50.18 55.64,49.83 55.63,49.80 55.47,49.46 55.45,49.43 55.26,49.11 55.24,49.08 55.02,48.78 55.00,48.76 54.74,48.48 54.72,48.46 54.44,48.20 54.42,48.18 54.12,47.96 54.09,47.94 53.77,47.75 53.74,47.73 53.40,47.57 53.37,47.56 53.02,47.43 52.99,47.43 52.85,47.39 52.82,47.38 52.79,47.38 52.76,47.38 52.73,47.38 52.70,47.39 52.67,47.40 52.64,47.41 52.61,47.43 52.59,47.45 52.56,47.47 48.15,51.75 48.13,51.77 48.11,51.80 48.10,51.82 48.09,51.85 48.08,51.87 48.07,51.90 48.06,51.93 48.06,51.96 48.06,51.99 48.07,52.02 48.07,52.05 48.08,52.08 48.09,52.10 48.11,52.13 48.13,52.15 48.15,52.17 51.29,55.45Z" fill="#1c3886" stroke="#c8d5f3" stroke-width="0.65"/>
<path d="M42.95,55.68 42.93,55.70 42.91,55.72 42.90,55.75 42.88,55.77 42.87,55.80 42.86,55.83 42.86,55.86 42.86,55.89 42.85,55.99 42.85,56.01 42.87,56.39 42.87,56.42 42.93,56.79 42.93,56.82 43.03,57.19 43.03,57.22 43.16,57.57 43.17,57.60 43.33,57.94 43.35,57.97 43.54,58.29 43.56,58.32 43.78,58.62 43.80,58.64 44.06,58.92 44.08,58.94 44.36,59.20 44.38,59.22 44.68,59.44 44.71,59.46 45.03,59.65 45.06,59.67 45.40,59.83 45.43,59.84 45.78,59.97 45.81,59.97 46.18,60.07 46.21,60.07 46.58,60.13 46.61,60.13 46.99,60.15 47.01,60.15 47.39,60.13 47.42,60.13 47.79,60.07 47.82,60.07 48.19,59.97 48.22,59.97 48.57,59.84 48.60,59.83 48.94,59.67 48.97,59.65 49.29,59.46 49.32,59.44 49.62,59.22 49.64,59.20 49.92,58.94 49.94,58.92 50.20,58.64 50.22,58.62 50.44,58.32 50.46,58.29 50.65,57.97 50.67,57.94 50.83,57.60 50.84,57.57 50.97,57.22 50.97,57.19 51.07,56.82 51.07,56.79 51.13,56.42 51.13,56.39 51.15,56.00 51.15,55.98 51.15,55.98 51.15,55.95 51.15,55.94 51.16,55.92 51.16,55.89 51.16,55.86 51.16,55.83 51.15,55.80 51.14,55.77 51.13,55.74 51.11,55.71 51.10,55.69 51.08,55.67 47.72,52.17 47.70,52.14 47.67,52.12 47.65,52.11 47.62,52.09 47.59,52.08 47.56,52.08 47.15,52.01 47.12,52.00 47.09,52.00 47.06,52.01 47.03,52.01 47.00,52.02 46.97,52.03 46.94,52.04 46.92,52.06 46.90,52.08 42.95,55.68Z" fill="#1c3886" stroke="#c8d5f3" stroke-width="0.65"/>
<path d="M42.70,40.35 42.69,40.38 42.69,40.41 42.68,40.43 42.68,40.46 42.68,40.49 42.68,40.52 42.69,40.55 42.70,40.58 42.71,40.60 42.72,40.63 42.74,40.65 42.76,40.67 42.78,40.69 42.79,40.70 42.80,40.71 42.82,40.73 42.83,40.74 42.84,40.77 42.85,40.78 42.87,40.81 42.87,40.82 42.89,40.84 42.89,40.86 42.90,40.89 42.91,40.90 42.91,40.93 42.92,40.94 42.92,40.97 42.92,40.99 42.92,41.02 42.92,41.03 42.92,41.06 42.92,41.08 42.92,41.09 42.87,41.42 42.87,41.44 42.87,41.45 42.87,41.47 42.86,41.50 42.86,41.52 42.86,41.52 42.85,41.55 42.85,41.58 42.85,41.61 42.85,41.64 42.85,41.66 42.86,41.69 42.87,41.72 42.88,41.74 42.90,41.77 42.92,41.79 45.62,45.06 45.64,45.08 45.66,45.10 45.68,45.12 45.71,45.13 45.73,45.15 45.76,45.15 45.79,45.16 45.82,45.17 45.85,45.17 45.88,45.17 45.91,45.16 45.93,45.16 49.66,44.05 49.69,44.05 49.72,44.03 49.74,44.02 49.77,44.00 49.79,43.98 49.81,43.96 49.82,43.94 49.84,43.92 49.85,43.89 49.86,43.86 49.87,43.84 49.88,43.81 49.88,43.78 49.88,43.75 49.88,43.74 49.88,43.72 49.88,43.69 49.88,43.68 49.89,43.65 49.89,43.63 49.90,43.61 49.90,43.59 49.91,43.56 49.92,43.55 49.92,43.53 50.06,43.25 50.07,43.22 50.18,42.90 50.19,42.87 50.27,42.55 50.28,42.52 50.33,42.18 50.33,42.15 50.35,41.81 50.35,41.79 50.33,41.45 50.33,41.42 50.28,41.08 50.27,41.05 50.19,40.73 50.18,40.70 50.07,40.38 50.06,40.35 49.91,40.05 49.90,40.02 49.73,39.73 49.71,39.71 49.51,39.43 49.49,39.41 49.26,39.16 49.24,39.14 48.99,38.91 48.97,38.89 48.69,38.69 48.68,38.68 48.66,38.67 48.65,38.66 48.62,38.64 48.61,38.63 48.59,38.61 48.58,38.60 48.56,38.58 48.55,38.57 48.53,38.54 48.52,38.53 48.51,38.51 48.50,38.49 48.49,38.47 48.47,38.44 48.46,38.42 48.44,38.39 48.42,38.37 48.39,38.35 48.37,38.34 48.34,38.32 48.32,38.31 48.29,38.30 48.26,38.30 48.23,38.30 48.20,38.30 48.17,38.30 43.98,39.00 43.95,39.00 43.92,39.01 43.90,39.02 43.87,39.04 43.85,39.06 43.82,39.08 43.80,39.10 43.78,39.12 43.77,39.15 43.76,39.18 43.74,39.20 43.74,39.23 43.73,39.26 43.73,39.28 43.73,39.31 43.72,39.32 43.72,39.35 43.71,39.37 43.70,39.39 43.70,39.41 43.68,39.43 43.68,39.45 43.66,39.47 43.65,39.49 43.64,39.50 43.56,39.61 43.56,39.62 43.54,39.63 43.52,39.65 43.51,39.66 43.49,39.68 43.48,39.69 43.46,39.71 43.44,39.72 43.42,39.73 43.41,39.74 43.38,39.75 43.37,39.76 43.34,39.77 43.32,39.77 43.30,39.78 43.28,39.78 43.25,39.79 43.24,39.79 43.21,39.79 43.19,39.79 43.16,39.79 43.13,39.79 43.10,39.79 43.07,39.80 43.04,39.81 43.01,39.82 42.99,39.83 42.96,39.85 42.94,39.87 42.92,39.89 42.90,39.92 42.88,39.94 42.87,39.97 42.70,40.35Z" fill="#f4f7fd" stroke="#ffffff" stroke-width="0.9"/>
<path d="M38.52,44.11 38.50,44.13 38.48,44.16 38.46,44.18 38.45,44.21 38.44,44.24 38.43,44.27 38.42,44.30 38.42,44.33 38.42,44.36 38.68,47.42 38.68,47.44 38.69,47.47 38.70,47.50 38.71,47.53 38.72,47.55 38.74,47.57 38.76,47.60 38.78,47.62 38.80,47.63 38.81,47.64 38.81,47.64 38.83,47.66 38.86,47.67 38.87,47.68 38.89,47.70 38.90,47.71 38.92,47.74 38.93,47.75 38.94,47.76 39.09,47.97 39.11,47.99 39.34,48.24 39.36,48.26 39.61,48.49 39.63,48.51 39.69,48.55 39.70,48.56 39.71,48.57 39.74,48.59 39.74,48.59 39.76,48.61 39.79,48.63 39.81,48.65 39.84,48.66 39.87,48.67 39.90,48.68 39.93,48.68 39.96,48.68 39.99,48.68 44.39,48.07 44.42,48.07 44.45,48.06 44.48,48.05 44.51,48.03 44.53,48.02 44.55,48.00 44.57,47.98 44.59,47.96 44.61,47.93 44.62,47.91 44.64,47.88 45.46,45.57 45.47,45.55 45.48,45.52 45.48,45.49 45.48,45.46 45.48,45.44 45.47,45.41 45.47,45.38 45.46,45.35 45.44,45.33 45.43,45.30 45.41,45.28 42.68,41.98 42.66,41.96 42.64,41.94 42.61,41.92 42.59,41.90 42.56,41.89 42.53,41.88 42.50,41.87 42.47,41.87 42.44,41.87 42.43,41.87 42.41,41.87 42.38,41.87 42.37,41.87 42.16,41.86 42.14,41.86 42.12,41.86 42.09,41.85 42.08,41.85 42.05,41.84 42.04,41.84 42.01,41.83 42.00,41.82 41.97,41.81 41.96,41.80 41.93,41.79 41.92,41.78 41.89,41.76 41.88,41.75 41.86,41.73 41.85,41.72 41.84,41.71 41.82,41.69 41.80,41.67 41.77,41.66 41.75,41.64 41.72,41.63 41.69,41.62 41.67,41.62 41.64,41.61 41.61,41.61 41.58,41.62 41.55,41.62 41.52,41.63 41.49,41.64 39.32,42.63 39.30,42.65 39.27,42.66 39.25,42.68 39.23,42.70 39.21,42.73 39.19,42.75 39.18,42.78 39.17,42.81 39.16,42.83 39.15,42.86 39.15,42.89 39.15,42.92 39.15,42.94 39.15,42.94 39.15,42.96 39.16,42.99 39.16,43.01 39.15,43.04 39.15,43.05 39.15,43.08 39.15,43.09 39.14,43.12 39.13,43.14 39.12,43.16 39.12,43.18 39.11,43.21 39.10,43.22 39.08,43.24 39.07,43.26 39.07,43.27 38.89,43.51 38.87,43.53 38.70,43.82 38.69,43.85 38.63,43.96 38.63,43.98 38.62,43.99 38.60,44.02 38.59,44.03 38.58,44.05 38.57,44.06 38.55,44.09 38.54,44.10 38.52,44.11Z" fill="#f4f7fd" stroke="#ffffff" stroke-width="0.9"/>
<path d="M36.71,42.75 36.71,42.72 36.70,42.69 36.70,42.66 36.68,42.63 36.67,42.60 36.65,42.58 36.63,42.56 36.61,42.54 36.59,42.52 36.56,42.50 36.54,42.49 36.51,42.48 36.48,42.47 36.45,42.46 36.42,42.46 36.39,42.46 36.36,42.46 36.33,42.47 31.39,43.86 31.36,43.87 31.34,43.88 31.31,43.90 31.29,43.91 31.27,43.93 31.25,43.95 31.23,43.97 31.21,44.00 31.20,44.02 31.19,44.05 31.18,44.08 31.18,44.11 30.75,46.96 30.74,46.99 30.74,47.02 30.75,47.05 30.75,47.07 30.76,47.10 30.77,47.13 30.78,47.15 30.80,47.18 30.81,47.20 30.83,47.22 33.83,50.22 33.85,50.24 33.88,50.26 33.91,50.27 33.93,50.29 33.96,50.30 33.99,50.30 34.02,50.31 34.05,50.31 34.09,50.30 34.12,50.30 36.86,49.62 36.89,49.61 36.92,49.60 36.94,49.59 36.97,49.57 36.99,49.55 37.01,49.53 37.03,49.51 37.05,49.48 37.06,49.46 37.07,49.43 37.08,49.40 37.09,49.37 37.09,49.34 37.09,49.34 37.09,49.33 37.10,49.30 37.10,49.28 37.11,49.26 37.11,49.24 37.12,49.21 37.13,49.20 37.14,49.17 37.15,49.16 37.16,49.14 37.17,49.12 37.19,49.10 37.20,49.09 37.22,49.07 37.23,49.05 37.24,49.04 37.44,48.86 37.46,48.84 37.69,48.59 37.71,48.57 37.91,48.29 37.93,48.27 38.10,47.98 38.11,47.95 38.17,47.84 38.17,47.82 38.18,47.81 38.20,47.78 38.21,47.77 38.22,47.75 38.23,47.74 38.25,47.71 38.26,47.70 38.28,47.69 38.30,47.67 38.32,47.64 38.34,47.62 38.35,47.59 38.36,47.56 38.37,47.53 38.38,47.50 38.38,47.47 38.38,47.44 38.12,44.38 38.12,44.36 38.11,44.33 38.10,44.30 38.09,44.27 38.08,44.25 38.06,44.23 38.04,44.20 38.02,44.18 38.00,44.17 37.99,44.16 37.99,44.16 37.97,44.14 37.94,44.13 37.93,44.12 37.91,44.10 37.90,44.09 37.88,44.06 37.87,44.05 37.86,44.04 37.71,43.83 37.69,43.81 37.46,43.56 37.44,43.54 37.19,43.31 37.17,43.29 36.90,43.09 36.89,43.08 36.87,43.07 36.85,43.05 36.84,43.04 36.82,43.02 36.81,43.01 36.79,42.99 36.78,42.97 36.77,42.95 36.76,42.94 36.75,42.91 36.74,42.90 36.73,42.87 36.73,42.85 36.72,42.82 36.72,42.81 36.72,42.78 36.71,42.77 36.71,42.75Z" fill="#f4f7fd" stroke="#ffffff" stroke-width="0.9"/>
<path d="M39.16,50.22 39.14,50.24 39.12,50.26 39.10,50.29 39.08,50.31 39.07,50.34 39.06,50.37 39.05,50.40 39.04,50.43 39.04,50.46 39.04,50.49 39.05,50.52 39.05,50.55 39.06,50.58 40.72,54.61 40.73,54.64 40.74,54.66 40.76,54.68 40.78,54.70 40.80,54.72 40.82,54.74 40.84,54.76 40.87,54.77 40.90,54.78 40.92,54.79 40.95,54.79 40.98,54.80 41.01,54.80 41.04,54.79 41.05,54.79 41.06,54.79 41.09,54.79 41.11,54.79 41.14,54.79 41.15,54.79 41.18,54.79 41.20,54.80 41.22,54.80 41.24,54.81 41.27,54.82 41.28,54.83 41.30,54.83 41.35,54.86 41.38,54.87 41.70,54.98 41.73,54.99 42.05,55.07 42.08,55.08 42.42,55.13 42.44,55.13 42.45,55.13 42.47,55.13 42.50,55.14 42.52,55.14 42.54,55.15 42.56,55.15 42.59,55.16 42.60,55.17 42.63,55.18 42.64,55.19 42.66,55.20 42.68,55.21 42.70,55.23 42.73,55.24 42.76,55.25 42.78,55.26 42.81,55.26 42.84,55.26 42.87,55.26 42.90,55.26 42.93,55.25 42.95,55.25 42.98,55.23 43.00,55.22 43.03,55.20 43.05,55.19 46.58,51.96 46.60,51.94 46.62,51.92 46.64,51.89 46.65,51.87 46.66,51.84 46.67,51.81 46.67,51.78 46.68,51.75 46.68,51.72 46.67,51.69 46.67,51.66 46.66,51.64 46.65,51.61 46.63,51.58 44.71,48.51 44.70,48.49 44.68,48.47 44.66,48.45 44.63,48.43 44.61,48.41 44.58,48.40 44.56,48.39 44.53,48.38 44.50,48.37 44.47,48.37 44.44,48.37 44.42,48.37 40.04,48.98 40.01,48.98 39.98,48.99 39.96,49.00 39.93,49.01 39.91,49.03 39.88,49.05 39.86,49.06 39.85,49.09 39.83,49.11 39.82,49.12 39.82,49.12 39.80,49.16 39.79,49.17 39.78,49.18 39.69,49.31 39.67,49.33 39.50,49.62 39.49,49.65 39.34,49.95 39.33,49.98 39.32,50.01 39.32,50.02 39.31,50.04 39.30,50.07 39.29,50.08 39.27,50.10 39.27,50.12 39.25,50.14 39.24,50.15 39.22,50.17 39.21,50.18 39.19,50.20 39.18,50.21 39.16,50.22Z" fill="#f4f7fd" stroke="#ffffff" stroke-width="0.9"/>
<ellipse cx="35.50" cy="32.30" rx="1.0" ry="0.85" fill="#eef3fd"/>
<ellipse cx="45.56" cy="34.90" rx="1.0" ry="0.85" fill="#eef3fd"/>
<ellipse cx="26.45" cy="37.47" rx="1.0" ry="0.85" fill="#eef3fd"/>
<ellipse cx="32.76" cy="39.77" rx="1.0" ry="0.85" fill="#eef3fd"/>
<ellipse cx="39.13" cy="38.56" rx="1.0" ry="0.85" fill="#eef3fd"/>
<ellipse cx="26.65" cy="44.98" rx="1.0" ry="0.85" fill="#eef3fd"/>
<ellipse cx="29.47" cy="51.65" rx="1.0" ry="0.85" fill="#eef3fd"/>
<ellipse cx="36.57" cy="54.10" rx="1.0" ry="0.85" fill="#eef3fd"/>
<ellipse cx="48.48" cy="47.61" rx="1.0" ry="0.85" fill="#eef3fd"/>
<ellipse cx="52.48" cy="51.67" rx="1.0" ry="0.85" fill="#eef3fd"/>
<ellipse cx="47.04" cy="56.46" rx="1.0" ry="0.85" fill="#eef3fd"/>
<ellipse cx="46.73" cy="41.57" rx="1.0" ry="0.85" fill="#7384b8"/>
<ellipse cx="41.68" cy="45.40" rx="1.0" ry="0.85" fill="#7384b8"/>
<ellipse cx="34.73" cy="46.33" rx="1.0" ry="0.85" fill="#7384b8"/>
<ellipse cx="42.70" cy="51.56" rx="1.0" ry="0.85" fill="#7384b8"/></g>
</svg>
<div class="w" style="left:66px;top:30.9px;font-family:'Liberation Serif',serif;font-weight:700;font-style:italic;font-size:21.4px;">cancers</div>

<div class="hl" style="left:257.5px;top:22.3px;width:108.5px;"></div>
<div class="w info" style="top:26.8px;">Impact Factor 5.2<br>CiteScore 7.4<br>Indexed in PubMed</div>
<div class="hl" style="left:257.5px;top:66.2px;width:108.5px;"></div>
<div class="w info" style="top:71px;font-size:9px;">ISSN 2072-6694</div>

<div class="hl" style="left:22.4px;top:113.5px;width:343.6px;"></div>
<div class="title" style="top:118.1px;transform:scaleX(1.052)">Metastatic Breast Cancer:</div>
<div class="title" style="top:142.8px;">Prolonging Life in Routine</div>
<div class="title" style="top:167.5px;">Oncology Care</div>

<div class="w" style="left:23px;top:264px;font-size:8.5px;font-weight:700;letter-spacing:-0.25px;">Volume 16 · Issue 7 April-1 2024</div>


<svg class="charts" width="388" height="558" viewBox="0 0 388 558">
<g stroke="#28467a" stroke-width="0.6" fill="none" opacity="0.3">
<path d="M50.5,296H279"/>
<path d="M50.5,312.1H279"/>
<path d="M50.5,328.1H279"/>
<path d="M50.5,344.2H279"/>
<path d="M50.5,360.2H279"/>
<path d="M50.5,376.3H279"/>
</g>
<path d="M50.5,292V380.8H279" stroke="#46648f" stroke-width="0.8" fill="none"/>
<g fill="none" stroke-linejoin="round">
<path d="M62.2,296 64.1,296 64.1,298.5 66.1,298.5 66.1,301 68,301 68,303.5 69.9,303.5 69.9,305.7 71.7,305.7 71.7,307.8 73.6,307.8 73.6,310 75.7,310 75.7,312.7 77.9,312.7 77.9,315.3 80,315.3 80,318 82,318 82,320 84,320 84,322 86,322 86,324 88,324 88,326 90,326 90,328 92,328 92,330 94,330 94,332 96,332 96,334 98,334 98,336 100,336 100,338.2 102,338.2 102,340.3 104,340.3 104,342.5 106.3,342.5 106.3,344 108.6,344 108.6,345.5 110.9,345.5 110.9,347 112.6,347 112.6,348.5 114.3,348.5 114.3,350 116,350 116,351.5 117.7,351.5 117.7,352.7 119.5,352.7 119.5,354 121.2,354 121.2,355.2 123.6,355.2 123.6,356.9 126,356.9 126,358.5 127.8,358.5 127.8,359.5 129.7,359.5 129.7,360.4 131.5,360.4 131.5,361.4 133.6,361.4 133.6,362 135.7,362 135.7,362.6 137.7,362.6 137.7,363.3 139.8,363.3 139.8,363.9 141.9,363.9 141.9,364.5 143.9,364.5 143.9,364.8 146,364.8 146,365 148.1,365 148.1,365.2 150.1,365.2 150.1,365.5 152.1,365.5 152.1,365.8 154.1,365.8 154.1,366.1 156,366.1 156,366.4 158,366.4 158,366.7 160,366.7 160,367 161.9,367 161.9,367.2 163.8,367.2 163.8,367.5 165.6,367.5 165.6,367.8 167.5,367.8 167.5,368 169.4,368 169.4,368.2 171.2,368.2 171.2,368.5 173.1,368.5 173.1,368.8 175,368.8 175,369 176.9,369 176.9,369.2 178.8,369.2 178.8,369.5 180.6,369.5 180.6,369.8 182.5,369.8 182.5,370 184.4,370 184.4,370.2 186.2,370.2 186.2,370.5 188.1,370.5 188.1,370.8 190,370.8 190,371" stroke="#8fd3e6" stroke-width="0.7"/>
<path d="M190,371 192,371 192,371.2 194,371.2 194,371.4 196,371.4 196,371.6 198,371.6 198,371.8 200,371.8 200,371.9 202,371.9 202,372.1 204,372.1 204,372.3 206,372.3 206,372.5 208,372.5 208,372.5 210,372.5 210,372.5 212,372.5 212,372.5 214,372.5 214,372.5 216,372.5 216,372.5 218,372.5 218,372.5 220,372.5 220,372.5 222,372.5 222,372.5 224,372.5 224,372.5 226,372.5 226,372.5 228,372.5 228,372.5 230,372.5 230,372.5 232,372.5 232,372.5 234,372.5 234,372.5 236,372.5 236,372.5 238,372.5 238,372.5 240,372.5 240,372.5 242,372.5 242,372.5 244,372.5 244,372.5 246,372.5 246,372.5 248,372.5 248,372.5 250,372.5 250,372.5 252,372.5 252,372.5 254,372.5 254,372.5 256,372.5 256,372.5 258,372.5 258,372.5" stroke="#4a7cc8" stroke-width="0.7"/>
<path d="M62.2,296 64.6,296 64.6,299.8 67,299.8 67,303.5 69.5,303.5 69.5,307.2 72,307.2 72,311 74,311 74,313.8 76,313.8 76,316.7 78,316.7 78,319.5 80,319.5 80,322.2 82,322.2 82,324.8 84,324.8 84,327.5 86,327.5 86,329.7 88,329.7 88,331.8 90,331.8 90,334 92,334 92,335.9 94,335.9 94,337.8 96,337.8 96,339.6 98,339.6 98,341.5 100,341.5 100,343.1 102,343.1 102,344.8 104,344.8 104,346.4 106,346.4 106,348 108.2,348 108.2,349.5 110.5,349.5 110.5,351 112.8,351 112.8,352.5 115,352.5 115,354 117,354 117,355 119,355 119,356 121,356 121,357 123,357 123,358 125,358 125,359 127,359 127,359.8 129,359.8 129,360.5 131,360.5 131,361.3 133,361.3 133,362 135,362 135,362.8 137.3,362.8 137.3,363.4 139.6,363.4 139.6,364.1 141.9,364.1 141.9,364.7 143.8,364.7 143.8,365.2 145.8,365.2 145.8,365.7 147.7,365.7 147.7,366.2 149.6,366.2 149.6,366.8 151.6,366.8 151.6,367.4 153.6,367.4 153.6,367.9 155.5,367.9 155.5,368.5 157.4,368.5 157.4,368.8 159.3,368.8 159.3,369.1 161.3,369.1 161.3,369.5 163.2,369.5 163.2,369.8 165.5,369.8 165.5,369.9 167.7,369.9 167.7,370 170,370 170,370.1 172.1,370.1 172.1,370.1 174.1,370.1 174.1,370.1 176.2,370.1 176.2,370.1 178.2,370.1 178.2,370.1 180.2,370.1 180.2,370.1 182.3,370.1 182.3,370.1 184.3,370.1 184.3,370.1 186.4,370.1 186.4,370.1 187.9,370.1 187.9,371.2 189.5,371.2 189.5,372.4 191,372.4 191,374.4" stroke="#5a2a6e" stroke-width="0.6"/>
<path d="M62.2,296 64.1,296 64.1,299 66,299 66,302 68,302 68,305.2 70,305.2 70,308.5 72.5,308.5 72.5,312.2 75,312.2 75,316 77.5,316 77.5,319.6 80,319.6 80,323.2 82.5,323.2 82.5,326.9 85,326.9 85,330.5 86.8,330.5 86.8,332.9 88.5,332.9 88.5,335.3 90.3,335.3 90.3,337.7 92.7,337.7 92.7,340.4 95,340.4 95,343 96.9,343 96.9,344.7 98.7,344.7 98.7,346.3 100.6,346.3 100.6,348 102.8,348 102.8,349.9 105,349.9 105,351.8 107,351.8 107,352.9 108.9,352.9 108.9,354.1 110.9,354.1 110.9,355.2 113,355.2 113,356.2 115,356.2 115,357.3 117.1,357.3 117.1,358.3 119.1,358.3 119.1,359.4 121.2,359.4 121.2,360.4 123.3,360.4 123.3,361.2 125.3,361.2 125.3,362 127.4,362 127.4,362.9 129.4,362.9 129.4,363.7 131.5,363.7 131.5,364.5 133.6,364.5 133.6,365 135.7,365 135.7,365.5 137.7,365.5 137.7,366 139.8,366 139.8,366.5 141.9,366.5 141.9,367 143.9,367 143.9,367.3 145.9,367.3 145.9,367.6 148,367.6 148,368 150,368 150,368.3 152,368.3 152,368.6 154,368.6 154,368.8 156,368.8 156,369.1 158,369.1 158,369.3 160,369.3 160,369.6 161.9,369.6 161.9,369.7 163.8,369.7 163.8,369.9 165.6,369.9 165.6,370 167.5,370 167.5,370.1 169.4,370.1 169.4,370.2 171.2,370.2 171.2,370.4 173.1,370.4 173.1,370.5 175,370.5 175,370.6 176.8,370.6 176.8,370.6 178.7,370.6 178.7,370.7 180.5,370.7 180.5,370.7 182.3,370.7 182.3,370.7 184.2,370.7 184.2,370.8 186,370.8 186,370.8 188,370.8 188,373.5" stroke="#3d2f8c" stroke-width="0.7"/>
<path d="M62.2,296 64.1,296 64.1,298.5 66.1,298.5 66.1,301 68,301 68,303.5 70,303.5 70,306 72,306 72,308.5 74,308.5 74,311 76,311 76,313.7 78,313.7 78,316.3 80,316.3 80,319 81.6,319 81.6,320.7 83.3,320.7 83.3,322.4 84.9,322.4 84.9,324 86.6,324 86.6,325.7 88.2,325.7 88.2,327.4 89.9,327.4 89.9,329.1 91.7,329.1 91.7,330.8 93.4,330.8 93.4,332.5 95.1,332.5 95.1,334.3 96.9,334.3 96.9,336 98.6,336 98.6,337.7 100.4,337.7 100.4,339.6 102.2,339.6 102.2,341.6 104,341.6 104,343.5 105.7,343.5 105.7,344.9 107.5,344.9 107.5,346.2 109.2,346.2 109.2,347.6 110.9,347.6 110.9,349 112.6,349 112.6,349.7 114.3,349.7 114.3,350.4 116.1,350.4 116.1,351.1 117.8,351.1 117.8,351.7 119.5,351.7 119.5,352.4 121.2,352.4 121.2,353.1 122.9,353.1 122.9,353.6 124.6,353.6 124.6,354.1 126.3,354.1 126.3,354.6 128.1,354.6 128.1,355.2 129.8,355.2 129.8,355.7 131.5,355.7 131.5,356.2 133.4,356.2 133.4,356.7 135.3,356.7 135.3,357.2 137.2,357.2 137.2,357.8 139.1,357.8 139.1,358.3 141,358.3 141,358.8 142.9,358.8 142.9,359.3" stroke="#2a3c9a" stroke-width="1.0"/>
<path d="M84.2,322.6v1.4M86.6,325.1v1.4M89,327.5v1.4M91.4,329.9v1.4M93.8,332.2v1.4M96.2,334.6v1.4M98.6,337v1.4M101,339.6v1.4M103.4,342.2v1.4M105.8,344.2v1.4M108.2,346.1v1.4M110.6,348.1v1.4M113,349.1v1.4M115.4,350.1v1.4M117.8,351v1.4M120.2,352v1.4M122.6,352.8v1.4M125,353.5v1.4M127.4,354.3v1.4M129.8,355v1.4M132.2,355.7v1.4M134.6,356.3v1.4M137,357v1.4M139.4,357.6v1.4M141.8,358.3v1.4" stroke="#2a3c9a" stroke-width="1.3"/>
<path d="M132.2,361.1v1.3M135.2,362.2v1.3M138.2,363v1.3M141.2,363.9v1.3M144.2,364.6v1.3M147.2,365.4v1.3M150.2,366.3v1.3M153.2,367.2v1.3M156.2,368v1.3M159.2,368.5v1.3M162.2,369v1.3M165.2,369.2v1.3M168.2,369.4v1.3M171.2,369.5v1.3M174.2,369.5v1.3M177.2,369.5v1.3M180.2,369.5v1.3M183.2,369.5v1.3M186.2,369.5v1.3M189.2,371.5v1.3" stroke="#5a2a6e" stroke-width="1.1"/>
<path d="M62.2,296 63.7,296 63.7,297.8 65.1,297.8 65.1,299.5 66.5,299.5 66.5,301.2 68,301.2 68,303 69.4,303 69.4,304.6 70.8,304.6 70.8,306.3 72.2,306.3 72.2,308 73.6,308 73.6,309.6 75.2,309.6 75.2,311.5 76.8,311.5 76.8,313.3 78.4,313.3 78.4,315.1 80,315.1 80,317 81.7,317 81.7,318.8 83.3,318.8 83.3,320.7 85,320.7 85,322.5 86.3,322.5 86.3,323.7 87.7,323.7 87.7,324.9 89,324.9 89,326.2 90.3,326.2 90.3,327.4 91.9,327.4 91.9,328.8 93.4,328.8 93.4,330.1 95,330.1 95,331.5 96.4,331.5 96.4,332.5 97.8,332.5 97.8,333.6 99.2,333.6 99.2,334.6 100.6,334.6 100.6,335.6 102.1,335.6 102.1,336.9 103.7,336.9 103.7,338.2 105.2,338.2 105.2,339.5 106.8,339.5 106.8,340.8 108.2,340.8 108.2,342.5 109.5,342.5 109.5,344.3 110.9,344.3 110.9,346" stroke="#2399b4" stroke-width="1.5"/>
<path d="M62.2,297 63.7,297 63.7,298.9 65.1,298.9 65.1,300.8 66.5,300.8 66.5,302.6 68,302.6 68,304.5 69.4,304.5 69.4,306.1 70.8,306.1 70.8,307.8 72.2,307.8 72.2,309.4 73.6,309.4 73.6,311 75.2,311 75.2,313 76.8,313 76.8,315 78.4,315 78.4,317 80,317 80,319 81.5,319 81.5,320.5 83,320.5 83,322 84.5,322 84.5,323.5 86,323.5 86,325 87.5,325 87.5,326.5 89,326.5 89,328 90.5,328 90.5,329.5 92,329.5 92,331 93.5,331 93.5,332.5 95,332.5 95,334 96.5,334 96.5,335.5 98,335.5 98,337 99.5,337 99.5,338.6 101,338.6 101,340.2 102.5,340.2 102.5,341.9 104,341.9 104,343.5 105.4,343.5 105.4,344.4 106.8,344.4 106.8,345.3 108.1,345.3 108.1,346.2 109.5,346.2 109.5,347.1 110.9,347.1 110.9,348 112.6,348 112.6,349.5 114.3,349.5 114.3,351 116,351 116,352.5 117.7,352.5 117.7,353.7 119.5,353.7 119.5,355 121.2,355 121.2,356.2 122.8,356.2 122.8,357.3 124.4,357.3 124.4,358.4 126,358.4 126,359.5" stroke="#2aa8c4" stroke-width="0.9"/>
<path d="M72.2,307.1v1.8M74.4,309.6v1.8M76.6,312.2v1.8M78.8,314.7v1.8M81,317.2v1.8M83.2,319.6v1.8M85.4,322v1.8M87.6,324v1.8M89.8,326v1.8M92,328v1.8M94.2,329.9v1.8M96.4,331.6v1.8M98.6,333.2v1.8M100.8,334.9v1.8M103,336.7v1.8M105.2,338.6v1.8M107.4,340.7v1.8M109.6,343.5v1.8" stroke="#2399b4" stroke-width="1.1"/>
<path d="M208,371.8v1.4M216,371.8v1.4M224,371.8v1.4M232,371.8v1.4M240,371.8v1.4M248,371.8v1.4M256,371.8v1.4" stroke="#4f83c6" stroke-width="0.9"/>
</g>
<g stroke="#28467a" stroke-width="0.6" fill="none" opacity="0.3">
<path d="M50.5,404.3H279"/>
<path d="M50.5,420.4H279"/>
<path d="M50.5,436.6H279"/>
<path d="M50.5,452.7H279"/>
<path d="M50.5,468.9H279"/>
<path d="M50.5,485H279"/>
</g>
<path d="M50.5,400.2V489H279" stroke="#46648f" stroke-width="0.8" fill="none"/>
<g fill="none" stroke-linejoin="round">
<path d="M62.2,404.5 64.1,404.5 64.1,406.3 66.1,406.3 66.1,408.2 68,408.2 68,410 69.9,410 69.9,411.6 71.8,411.6 71.8,413.3 73.7,413.3 73.7,415 75.6,415 75.6,416.6 77.7,416.6 77.7,420 79.7,420 79.7,423.5 81.8,423.5 81.8,426.9 83.5,426.9 83.5,428.6 85.2,428.6 85.2,430.3 86.9,430.3 86.9,432 88.7,432 88.7,433.8 90.4,433.8 90.4,435.5 92.1,435.5 92.1,437.2 93.8,437.2 93.8,438.6 95.5,438.6 95.5,439.9 97.2,439.9 97.2,441.3 99,441.3 99,442.7 100.7,442.7 100.7,444 102.4,444 102.4,445.4 104.1,445.4 104.1,446.8 105.8,446.8 105.8,448.2 107.6,448.2 107.6,449.5 109.3,449.5 109.3,450.9 111,450.9 111,452.3 112.7,452.3 112.7,453.7 114.5,453.7 114.5,455.3 116.3,455.3 116.3,456.9 118.2,456.9 118.2,458.4 120,458.4 120,460 121.5,460 121.5,462 123,462 123,464 125.1,464 125.1,466.5 127.2,466.5 127.2,469 129.2,469 129.2,469.6 131.1,469.6 131.1,470.2 133.1,470.2 133.1,470.9 135,470.9 135,471.5 136.7,471.5 136.7,471.8 138.3,471.8 138.3,472 140,472 140,472.2 141.7,472.2 141.7,472.5 143.3,472.5 143.3,472.8 145,472.8 145,473 146.9,473 146.9,473.1 148.8,473.1 148.8,473.2 150.6,473.2 150.6,473.4 152.5,473.4 152.5,473.5 154.4,473.5 154.4,473.6 156.2,473.6 156.2,473.8 158.1,473.8 158.1,473.9 160,473.9 160,474 161.8,474 161.8,474 163.6,474 163.6,474.1 165.4,474.1 165.4,474.1 167.1,474.1 167.1,474.1 168.9,474.1 168.9,474.2 170.7,474.2 170.7,474.2 172.5,474.2 172.5,474.2 174.3,474.2 174.3,474.3 176.1,474.3 176.1,474.3 177.9,474.3 177.9,474.4 179.6,474.4 179.6,474.4 181.4,474.4 181.4,474.4 183.2,474.4 183.2,474.5 185,474.5 185,474.5" stroke="#3cb6e0" stroke-width="0.8"/>
<path d="M62.2,404.5 64.2,404.5 64.2,405.2 66.1,405.2 66.1,406 68,406 68,406.8 70,406.8 70,407.5 71.9,407.5 71.9,408.7 73.8,408.7 73.8,409.9 75.8,409.9 75.8,411.2 77.7,411.2 77.7,412.4 79.4,412.4 79.4,413.2 81,413.2 81,414.1 82.7,414.1 82.7,414.9 84.3,414.9 84.3,415.8 86,415.8 86,416.6 88,416.6 88,418.6 90.1,418.6 90.1,420.7 92.1,420.7 92.1,422.7 93.8,422.7 93.8,424.4 95.4,424.4 95.4,426 97.1,426 97.1,427.7 98.7,427.7 98.7,429.3 100.4,429.3 100.4,431 102,431 102,432.2 103.7,432.2 103.7,433.5 105.3,433.5 105.3,434.7 107,434.7 107,436 108.6,436 108.6,437.2 110.3,437.2 110.3,438.8 111.9,438.8 111.9,440.5 113.6,440.5 113.6,442.1 115.2,442.1 115.2,443.8 116.9,443.8 116.9,445.4 118.5,445.4 118.5,446.8 120,446.8 120,448.2 121.7,448.2 121.7,449.1 123.4,449.1 123.4,449.9 125.2,449.9 125.2,450.8 126.9,450.8 126.9,451.7 128.6,451.7 128.6,452.5 130.3,452.5 130.3,453.4 132,453.4 132,454.4 133.7,454.4 133.7,455.5 135.4,455.5 135.4,456.5 137.2,456.5 137.2,457.5 138.9,457.5 138.9,458.6 140.6,458.6 140.6,459.6 142.3,459.6 142.3,460.1 144,460.1 144,460.6 145.8,460.6 145.8,461.1 147.5,461.1 147.5,461.7 149.2,461.7 149.2,462.2 150.9,462.2 150.9,462.7 152.6,462.7 152.6,463 154.3,463 154.3,463.4 156.1,463.4 156.1,463.7 157.8,463.7 157.8,464 159.5,464 159.5,464.4 161.2,464.4 161.2,464.7 162.9,464.7 162.9,465.1 164.6,465.1 164.6,465.4 166.3,465.4 166.3,465.8 168.1,465.8 168.1,466.1 169.8,466.1 169.8,466.4 171.5,466.4 171.5,466.8 173.2,466.8 173.2,467.3 175,467.3 175,467.8 176.7,467.8 176.7,468.4 178.4,468.4 178.4,468.9 180.2,468.9 180.2,469.4 181.9,469.4 181.9,469.9 183.6,469.9 183.6,470.1 185.3,470.1 185.3,470.2 187.1,470.2 187.1,470.4 188.8,470.4 188.8,470.6 190.5,470.6 190.5,470.7 192.2,470.7 192.2,470.9 194,470.9 194,471 195.9,471 195.9,471 197.7,471 197.7,471.1 199.6,471.1 199.6,471.2 201.4,471.2 201.4,471.2 203.3,471.2 203.3,471.3 205.1,471.3 205.1,471.4 207,471.4 207,471.4 208.8,471.4 208.8,471.5 210.7,471.5 210.7,471.6 212.5,471.6 212.5,471.6 214.4,471.6 214.4,471.7 216.2,471.7 216.2,471.8 218.1,471.8 218.1,471.8 219.9,471.8 219.9,471.9 220,471.9 220,475.6 221.8,475.6 221.8,475.6 223.5,475.6 223.5,475.6 225.3,475.6 225.3,475.6 227,475.6 227,475.6 228.8,475.6 228.8,475.6 230.6,475.6 230.6,475.6 232.3,475.6 232.3,475.6 234.1,475.6 234.1,475.6 235.9,475.6 235.9,475.6 237.6,475.6 237.6,475.6 239.4,475.6 239.4,475.6 241.1,475.6 241.1,475.6 242.9,475.6 242.9,475.6 244.7,475.6 244.7,475.6 246.4,475.6 246.4,475.6 248.2,475.6 248.2,475.6 250,475.6 250,475.6 251.7,475.6 251.7,475.6 253.5,475.6 253.5,475.6 255.2,475.6 255.2,475.6 257,475.6 257,475.6" stroke="#3b8fe6" stroke-width="1.15"/>
<path d="M78.2,411.9v1.6M81.2,413.4v1.6M84.2,414.9v1.6M87.2,417v1.6M90.2,420v1.6M93.2,423v1.6M96.2,426v1.6M99.2,429v1.6M102.2,431.6v1.6M105.2,433.8v1.6M108.2,436.1v1.6M111.2,439v1.6M114.2,441.9v1.6M117.2,444.9v1.6M120.2,447.5v1.6M123.2,449v1.6M126.2,450.5v1.6M129.2,452v1.6M132.2,453.7v1.6M135.2,455.5v1.6M138.2,457.4v1.6M141.2,459v1.6M144.2,459.9v1.6M147.2,460.8v1.6M150.2,461.7v1.6M153.2,462.3v1.6M156.2,462.9v1.6M159.2,463.5v1.6M162.2,464.1v1.6M165.2,464.7v1.6M168.2,465.3v1.6M171.2,465.9v1.6M174.2,466.8v1.6M177.2,467.7v1.6M180.2,468.6v1.6M183.2,469.2v1.6M186.2,469.5v1.6M189.2,469.8v1.6M192.2,470.1v1.6M195.2,470.2v1.6M198.2,470.3v1.6M201.2,470.4v1.6M204.2,470.5v1.6M207.2,470.6v1.6M210.2,470.7v1.6M213.2,470.9v1.6M216.2,471v1.6M219.2,471.1v1.6M222.2,474.8v1.6M225.2,474.8v1.6M228.2,474.8v1.6M231.2,474.8v1.6M234.2,474.8v1.6M237.2,474.8v1.6M240.2,474.8v1.6M243.2,474.8v1.6M246.2,474.8v1.6M249.2,474.8v1.6M252.2,474.8v1.6M255.2,474.8v1.6" stroke="#3b8fe0" stroke-width="0.9"/>
<path d="M62.2,404.5 63.9,404.5 63.9,408.5 65.7,408.5 65.7,412.6 67.4,412.6 67.4,416.6 69,416.6 69,420.2 70.5,420.2 70.5,423.8 72,423.8 72,427.4 73.6,427.4 73.6,431 75.1,431 75.1,433.6 76.7,433.6 76.7,436.1 78.2,436.1 78.2,438.7 79.7,438.7 79.7,441.3 81.3,441.3 81.3,443.9 82.8,443.9 82.8,446.5 84.4,446.5 84.4,449 86,449 86,451.6 87.5,451.6 87.5,453.4 89,453.4 89,455.2 90.6,455.2 90.6,457 92.1,457 92.1,458.8 93.8,458.8 93.8,459.8 95.4,459.8 95.4,460.9 97.1,460.9 97.1,461.9 98.7,461.9 98.7,463 100.4,463 100.4,464 102,464 102,465 103.7,465 103.7,466 105.3,466 105.3,467.1 107,467.1 107,468.1 108.6,468.1 108.6,469.1 110.3,469.1 110.3,469.5 111.9,469.5 111.9,469.9 113.6,469.9 113.6,470.4 115.2,470.4 115.2,470.8 116.9,470.8 116.9,471.2 118.5,471.2 118.5,471.5 120.2,471.5 120.2,471.8 121.8,471.8 121.8,472 123.5,472 123.5,472.3 125.1,472.3 125.1,472.6 126.6,472.6 126.6,472.6 128.2,472.6 128.2,472.7 129.8,472.7 129.8,472.7 131.3,472.7 131.3,472.8 132.8,472.8 132.8,472.8 134.4,472.8 134.4,472.8 135.9,472.8 135.9,472.9 137.5,472.9 137.5,472.9 139,472.9 139,473 140.6,473 140.6,473 142.2,473 142.2,473.9 143.7,473.9 143.7,474.9 145.2,474.9 145.2,475.8 146.8,475.8 146.8,476.7 148.4,476.7 148.4,476.7 150,476.7 150,476.7 151.5,476.7 151.5,476.8 153.1,476.8 153.1,476.8 154.7,476.8 154.7,476.8 156.3,476.8 156.3,476.8 157.8,476.8 157.8,476.9 159.4,476.9 159.4,476.9 161,476.9 161,476.9 162.6,476.9 162.6,476.9 164.1,476.9 164.1,477 165.7,477 165.7,477 167.3,477 167.3,477 168.9,477 168.9,477 170.4,477 170.4,477.1 172,477.1 172,477.1 173.6,477.1 173.6,477.1" stroke="#3a2d8c" stroke-width="0.9"/>
<path d="M68.2,417.7v1.5M71,424.2v1.5M73.8,430.6v1.5M76.6,435.3v1.5M79.4,440v1.5M82.2,444.6v1.5M85,449.2v1.5M87.8,453v1.5M90.6,456.3v1.5M93.4,458.9v1.5M96.2,460.6v1.5M99,462.4v1.5M101.8,464.1v1.5M104.6,465.9v1.5M107.4,467.6v1.5M110.2,468.8v1.5M113,469.5v1.5M115.8,470.2v1.5M118.6,470.7v1.5M121.4,471.2v1.5M124.2,471.7v1.5M127,471.9v1.5M129.8,472v1.5M132.6,472v1.5M135.4,472.1v1.5M138.2,472.2v1.5M141,472.5v1.5M143.8,474.2v1.5M146.6,475.8v1.5M149.4,476v1.5M152.2,476v1.5M155,476.1v1.5M157.8,476.1v1.5M160.6,476.2v1.5M163.4,476.2v1.5M166.2,476.2v1.5M169,476.3v1.5M171.8,476.3v1.5" stroke="#3a2d8c" stroke-width="0.9"/>
<path d="M62.2,404.5 63.8,404.5 63.8,405.5 65.3,405.5 65.3,406.5 66.8,406.5 66.8,407.4 68.4,407.4 68.4,408.4 70,408.4 70,409.4 71.5,409.4 71.5,410.4 73.1,410.4 73.1,412 74.8,412 74.8,413.7 76.4,413.7 76.4,415.3 78.1,415.3 78.1,417 79.7,417 79.7,418.6 81.4,418.6 81.4,420.2 83.1,420.2 83.1,421.7 84.8,421.7 84.8,423.2 86.6,423.2 86.6,424.8 88.3,424.8 88.3,426.3 90,426.3 90,427.9 91.5,427.9 91.5,429.5 93,429.5 93,431.1 94.5,431.1 94.5,432.7 95.9,432.7 95.9,434.4 97.4,434.4 97.4,436 98.9,436 98.9,437.6 100.4,437.6 100.4,439.2 102.1,439.2 102.1,440.6 103.8,440.6 103.8,442 105.6,442 105.6,443.4 107.3,443.4 107.3,444.7 109,444.7 109,446.1 110.7,446.1 110.7,447.5 112.2,447.5 112.2,448.6 113.8,448.6 113.8,449.8 115.3,449.8 115.3,450.9 116.9,450.9 116.9,452.1 118.5,452.1 118.5,453.2 120,453.2 120,454.4 121.5,454.4 121.5,455.7 123.1,455.7 123.1,457 124.7,457 124.7,458.3 126.2,458.3 126.2,459.6 127.9,459.6 127.9,460.5 129.6,460.5 129.6,461.3 131.3,461.3 131.3,462.1 133.1,462.1 133.1,463 134.8,463 134.8,463.9 136.5,463.9 136.5,464.7 138.2,464.7 138.2,465.4 139.9,465.4 139.9,466.1 141.7,466.1 141.7,466.8 143.4,466.8 143.4,467.5 145.1,467.5 145.1,468.2 146.8,468.2 146.8,468.9 148.5,468.9 148.5,469.4 150.2,469.4 150.2,469.9 151.9,469.9 151.9,470.4 153.7,470.4 153.7,471 155.4,471 155.4,471.5 157.1,471.5 157.1,472 158.7,472 158.7,472.2 160.3,472.2 160.3,472.4 161.9,472.4 161.9,472.7 163.5,472.7 163.5,472.9 165.1,472.9 165.1,473.1 166.7,473.1 166.7,473.3 168.3,473.3 168.3,473.6 169.9,473.6 169.9,473.8 171.5,473.8 171.5,474 173,474 173,474.3 174.5,474.3 174.5,474.6 176,474.6 176,474.9 177.4,474.9 177.4,475.2 178.9,475.2 178.9,475.5 180.4,475.5 180.4,475.8 181.9,475.8 181.9,476.1 183.6,476.1 183.6,476.3 185.3,476.3 185.3,476.6 187.1,476.6 187.1,476.8 188.8,476.8 188.8,477 190.5,477 190.5,477.3 192.2,477.3 192.2,477.5 193.8,477.5 193.8,477.5 195.5,477.5 195.5,477.5 197.1,477.5 197.1,477.5 198.7,477.5 198.7,477.5 200.3,477.5 200.3,477.6 202,477.6 202,477.6 203.6,477.6 203.6,477.6 205.2,477.6 205.2,477.6 206.9,477.6 206.9,477.6 208.5,477.6 208.5,477.6 210.1,477.6 210.1,477.6 211.8,477.6 211.8,477.6 213.4,477.6 213.4,477.7 215,477.7 215,477.7 216.6,477.7 216.6,477.7 218.3,477.7 218.3,477.7 219.9,477.7 219.9,477.7 221,477.7 221,480.8 222.6,480.8 222.6,480.8 224.1,480.8 224.1,480.8 225.7,480.8 225.7,480.8 227.3,480.8 227.3,480.8 228.9,480.8 228.9,480.8 230.4,480.8 230.4,480.8 232,480.8 232,480.8 233.6,480.8 233.6,480.8 235.1,480.8 235.1,480.8 236.7,480.8 236.7,480.8 238.3,480.8 238.3,480.8 239.8,480.8 239.8,480.8 241.4,480.8 241.4,480.8 243,480.8 243,480.8 244.6,480.8 244.6,480.8 246.1,480.8 246.1,480.8 247.7,480.8 247.7,480.8 247.9,480.8 247.9,484.9" stroke="#84204e" stroke-width="1.55"/>
<path d="M120,453.5v1.8M124,456.9v1.8M128,459.6v1.8M132,461.6v1.8M136,463.6v1.8M140,465.2v1.8M144,466.9v1.8M148,468.4v1.8M152,469.6v1.8M156,470.8v1.8M160,471.5v1.8M164,472.1v1.8M168,472.6v1.8M172,473.2v1.8M176,474v1.8M180,474.8v1.8M184,475.5v1.8M188,476v1.8M192,476.6v1.8M196,476.6v1.8M200,476.7v1.8M204,476.7v1.8M208,476.7v1.8M212,476.7v1.8M216,476.8v1.8M220,477.1v1.8M224,479.9v1.8M228,479.9v1.8M232,479.9v1.8M236,479.9v1.8M240,479.9v1.8M244,479.9v1.8" stroke="#7b1645" stroke-width="1.0"/>
</g>
<g font-family="Liberation Sans" font-weight="700" fill="#0e1746" stroke="#0e1746" stroke-width="0.2">
<text x="48.6" y="297.1" font-size="3.9" text-anchor="end" stroke-width="0.05">1.0</text>
<text x="48.6" y="313.16" font-size="3.9" text-anchor="end" stroke-width="0.05">0.8</text>
<text x="48.6" y="329.22" font-size="3.9" text-anchor="end" stroke-width="0.05">0.6</text>
<text x="48.6" y="345.28" font-size="3.9" text-anchor="end" stroke-width="0.05">0.4</text>
<text x="48.6" y="361.34" font-size="3.9" text-anchor="end" stroke-width="0.05">0.2</text>
<text x="48.6" y="377.4" font-size="3.9" text-anchor="end" stroke-width="0.05">0.0</text>
<text x="62.4" y="385.1" font-size="3.9" text-anchor="middle" stroke-width="0.05">0</text>
<text x="103.1" y="385.1" font-size="3.9" text-anchor="middle" stroke-width="0.05">50</text>
<text x="143.8" y="385.1" font-size="3.9" text-anchor="middle" stroke-width="0.05">100</text>
<text x="184.5" y="385.1" font-size="3.9" text-anchor="middle" stroke-width="0.05">150</text>
<text x="225.2" y="385.1" font-size="3.9" text-anchor="middle" stroke-width="0.05">200</text>
<text x="265.9" y="385.1" font-size="3.9" text-anchor="middle" stroke-width="0.05">250</text>
<text x="71" y="395.8" font-size="5.2">Time between initial diagnosis metastasis and death / last contact [months]</text>
<text transform="translate(35.8,336) rotate(-90)" font-size="5.1" text-anchor="middle">Cum. Survival</text>
<text x="338" y="379.6" font-size="4.5">p &lt; 0.001</text>
<text x="48.6" y="406.4" font-size="3.9" text-anchor="end" stroke-width="0.05">1.0</text>
<text x="48.6" y="422.54" font-size="3.9" text-anchor="end" stroke-width="0.05">0.8</text>
<text x="48.6" y="438.68" font-size="3.9" text-anchor="end" stroke-width="0.05">0.6</text>
<text x="48.6" y="454.82" font-size="3.9" text-anchor="end" stroke-width="0.05">0.4</text>
<text x="48.6" y="470.96" font-size="3.9" text-anchor="end" stroke-width="0.05">0.2</text>
<text x="48.6" y="487.1" font-size="3.9" text-anchor="end" stroke-width="0.05">0.0</text>
<text x="62" y="494.2" font-size="3.9" text-anchor="middle" stroke-width="0.05">0</text>
<text x="113.5" y="494.2" font-size="3.9" text-anchor="middle" stroke-width="0.05">50</text>
<text x="165" y="494.2" font-size="3.9" text-anchor="middle" stroke-width="0.05">100</text>
<text x="216.3" y="494.2" font-size="3.9" text-anchor="middle" stroke-width="0.05">150</text>
<text x="266.5" y="494.2" font-size="3.9" text-anchor="middle" stroke-width="0.05">200</text>
<text x="71" y="504.2" font-size="5.2">Time between initial diagnosis metastasis and death / last contact [months]</text>
<text transform="translate(35.8,444.7) rotate(-90)" font-size="5.1" text-anchor="middle">Cum. Survival</text>
<text x="338.6" y="490.1" font-size="4.5">p &lt; 0.001</text>
</g>
<g font-family="Liberation Sans" font-weight="400" fill="#121a62" stroke="#121a62" stroke-width="0.3" font-size="4.4">
<text x="291.7" y="303">1995–2000(n=212);</text>
<text x="291.7" y="308.1">Median: 31.6 months (0.5–237.3+)</text>
<text x="291.7" y="313.9">2001–2009 (n=303);</text>
<text x="291.7" y="319">Median: 36.6 months (0.3–156.6+)</text>
<text x="291.7" y="324.8">2010–2014 (n=394);</text>
<text x="291.7" y="329.4">Median: 40.9 months (0.2–126.4+)</text>
<text x="291.7" y="335.2">2015–2017 (n=320);</text>
<text x="291.7" y="339.9">Median: 42.4 months (0.2–66.6+)</text>
<text x="291.7" y="345.7">2018–2022 (n=319);</text>
<text x="291.7" y="350.5">Median: 40.4 months (0.4–61.1+)</text>
<text x="289.4" y="414.6">HR-positive/HER2-positive</text>
<text x="289.4" y="419.3">(triple positive) (n=237);</text>
<text x="289.4" y="423.9">Median: 52.3 months (0.3–183.3+)</text>
<text x="289.4" y="430.4">HR-positive/HER2-negative (n=678);</text>
<text x="289.4" y="435">Median: 41.1 months (0.2–161.3)</text>
<text x="289.4" y="441.3">HR-negative/HER2-positive (n=85);</text>
<text x="289.4" y="445.5">Median: 30.6 months (0.9–118.0+)</text>
<text x="289.4" y="451.3">HR-negative/HER2-negative</text>
<text x="289.4" y="455.9">(triple-negative) (n=165);</text>
<text x="289.4" y="461.5">Median: 13.9 months (0.2–110.0+)</text>
</g>
<g fill="none" stroke-width="0.6">
<path d="M283,303.5h3.5v-1.2h5" stroke="#2f7fd0"/>
<path d="M282.5,316h3.5v-1.3h5.5" stroke="#2a3c9a"/>
<path d="M283,325.5h3.5v-1.2h5" stroke="#4f8fd8"/>
<path d="M282.5,337h3.5v-1.3h5.5" stroke="#2a3c9a"/>
<path d="M283,345.5h3.5v-1.2h5" stroke="#3b7fd0"/>
<path d="M282,431.5h3v-1.2h4.5" stroke="#7b1645"/>
<path d="M282.5,455.5h3v-1.2h4.5" stroke="#3a2d8c"/>
<path d="M283,419h3v-1h4" stroke="#4a9be0"/>
<path d="M283,442h3v-1h4" stroke="#3cb6e0"/>
</g>
<g fill="none" stroke="#fff" stroke-width="1.15" stroke-linecap="square">
<path d="M22.9,526.2V508.2L36.1,501.3L49.1,508.6"/>
<path d="M24.8,509.6L35.2,504.1"/>
<path d="M74.3,509.6V526.6L61.7,534.3L48.6,527"/>
<path d="M72.4,525.3L62.3,531.6"/>
</g>
<text font-family="Liberation Sans" font-weight="700" font-size="13.2" fill="#fff" stroke="#fff" stroke-width="1.5" stroke-linejoin="round"><tspan x="28.6" y="522.9">M</tspan><tspan x="40.9" y="522.9">D</tspan><tspan x="51.5" y="522.9">P</tspan></text>
<rect x="63.8" y="512.5" width="4.5" height="10.9" fill="#fff"/>

</svg>
</body></html>
